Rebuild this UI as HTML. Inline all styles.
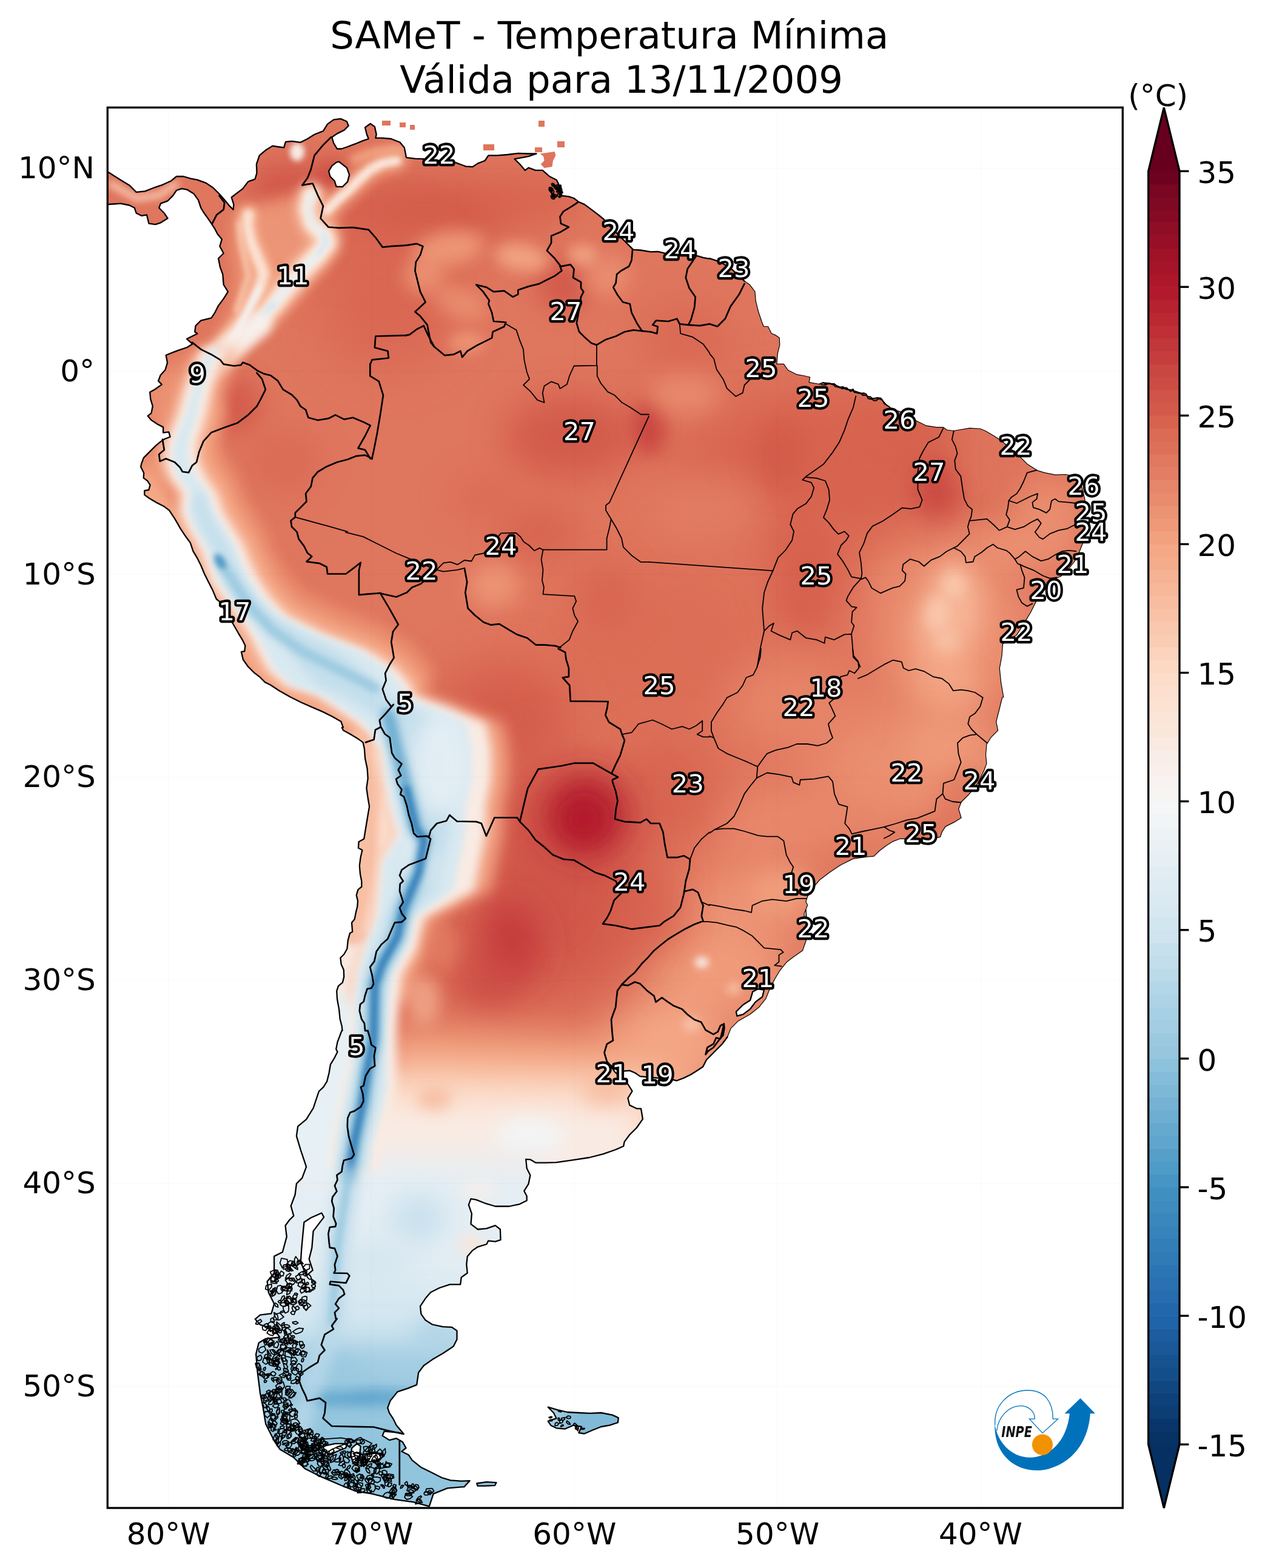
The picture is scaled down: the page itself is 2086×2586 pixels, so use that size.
<!DOCTYPE html>
<html lang="pt"><head><meta charset="utf-8"><title>SAMeT - Temperatura Mínima</title>
<style>html,body{margin:0;padding:0;background:#fff}body{width:2086px;height:2586px;overflow:hidden}svg{display:block}text{font-family:"DejaVu Sans","Liberation Sans",sans-serif}.t{font-size:62.5px;text-anchor:middle}.k{font-size:50px}.l{font-size:41.7px;text-anchor:middle;fill:#fff;stroke:#000;stroke-width:8.3px;stroke-linejoin:round;paint-order:stroke fill}.c{fill:none;stroke:#000;stroke-width:2.3;stroke-linejoin:round;stroke-linecap:round}.b{fill:none;stroke:#000;stroke-width:2.7;stroke-linejoin:round;stroke-linecap:round}.s{fill:none;stroke:#000;stroke-width:1.8;stroke-linejoin:round;stroke-linecap:round}</style></head><body>
<svg width="2086" height="2586" viewBox="0 0 2086 2586">
<rect width="2086" height="2586" fill="#fff"/>
<defs>
<clipPath id="land"><path clip-rule="evenodd" d="M177.2,282.9 187.3,289.5 198.8,296.7 213.2,305.4 224.7,316.9 239.1,315.4 253.5,309.7 267.9,304.8 282.3,298.2 291,291 302.5,291 314,294.4 325.5,296.7 339.9,301.9 351.5,309.7 363,321.2 371.6,331.3 378.8,339.9 384.6,345.7 385.4,337.1 381.7,325.5 388.9,319.8 400.4,311.1 409.1,299.6 420.6,295.3 423.5,285.2 422.9,270.8 427.8,256.4 437.9,247.8 449.4,240.6 458,242 468.1,243.4 471,233.9 481.1,232.8 495.5,234.8 507,229 518.5,221.8 532.9,216.1 540.1,204.6 550.2,197.4 561.7,195.9 571.8,200.2 574.7,207.4 567.5,214.6 555.9,220.4 547.3,226.2 550.2,236.2 555.9,245.5 563.1,245.5 573.2,242 584.7,237.7 599.1,231.9 607.8,229 604.9,221.8 602,210.3 610.7,204 617.9,208.9 620.7,221.8 619.3,227.6 630.8,227.6 645.2,229 659.6,234.8 666.8,243.4 670,259.9 684.4,261.6 698.8,262.2 750.6,267.9 767.9,274.3 779.4,275.1 788.1,269.4 799.6,265 805.4,256.4 819.8,256.4 837.1,255 854.3,252.9 871.6,253.5 884.6,253.5 871.6,257.8 857.2,260.7 848.6,262.2 857.2,270.8 865.9,280.9 871.6,276.6 883.1,280.9 894.7,280.9 906.2,291 917.7,296.7 923.5,308.2 924.9,322.6 937.9,324.1 946.5,327 953.7,332.7 963.8,337.1 975.3,345.7 986.8,354.3 995.5,361.5 1004.1,371.6 1015.6,383.1 1030,397.5 1041.5,409.1 1044.4,411.9 1055.9,412.5 1073.2,415.4 1084.7,414.8 1096.3,417.7 1119.3,420.6 1145.2,420.6 1159.6,424.9 1170,426.9 1170,426.2 1187.3,431.9 1204.6,442 1227.6,463.6 1236.2,469.4 1244.9,480.9 1246.3,496.7 1250.6,514 1256.4,531.3 1259.3,538.5 1266.5,538.5 1272.2,550 1279.4,552.9 1285.2,557.2 1285.8,568.7 1282.3,583.1 1280.9,600.4 1292.4,600.4 1299.6,610.5 1314,617.7 1327,620 1335.6,622 1334.2,630.7 1351.5,633.5 1357.2,630.7 1371.6,632.7 1388.9,639.3 1406.2,643.6 1423.5,649.4 1437.9,658 1446.5,658 1452.3,656.6 1460.9,666.7 1472.4,675.3 1486.8,679.6 1486.7,679.7 1509.4,693.2 1526.7,701.8 1544,704.7 1555.5,704.7 1561.3,709 1572.8,710.5 1598.7,706.2 1616,707 1624.7,710.5 1639.1,719.1 1650.6,726.3 1682.3,753.7 1693.8,765.2 1705.3,772.4 1711.1,776.2 1722.6,779.6 1739.9,783.1 1757.1,782.5 1771.5,785.4 1783.1,799.8 1788.8,822.8 1789.4,851.6 1787.4,880.4 1785.9,894.8 1780.2,909.2 1771.5,926.5 1760,940.9 1748.5,951 1737,955.3 1722.6,972.6 1708.2,992.7 1699.5,1010 1690.9,1024.4 1676.5,1047.5 1653.5,1061.9 1652,1082 1648.3,1102.2 1650.6,1125.2 1654.9,1150 1652.8,1150 1647.1,1173 1642.7,1190.3 1645.6,1204.7 1634.1,1216.2 1626.9,1227.8 1625.5,1245 1626.9,1259.4 1622.6,1271 1611.1,1294 1596.7,1311.3 1585.1,1322.8 1580.8,1334.3 1585.1,1348.7 1573.6,1355.9 1559.2,1363.1 1553.5,1371.8 1550.6,1380.4 1536.2,1383.3 1484.3,1383.3 1472.8,1387.6 1461.3,1394.8 1449.8,1403.5 1441.1,1412.1 1426.7,1413.5 1406.6,1416.4 1386.4,1426.5 1369.1,1438 1351.8,1451 1343.2,1461.1 1331.7,1478.3 1328.8,1487 1331.7,1492.7 1325.9,1507.1 1328.8,1524.4 1329.1,1500 1330.6,1525.9 1329.1,1551.8 1323.4,1567.7 1309,1577.8 1297.5,1586.4 1285.9,1600.8 1277.3,1615.2 1268.7,1632.5 1262.9,1646.9 1251.4,1661.3 1237,1672.8 1216.8,1684.3 1205.3,1695.9 1199.5,1710.3 1190.9,1721.8 1176.5,1736.2 1165,1747.7 1159.2,1759.2 1150.6,1765 1139.1,1772.2 1127.5,1777.9 1116,1782.3 1110.3,1780.8 1084.3,1777.9 1055.5,1775.1 1046.9,1769.3 1038.2,1765.6 1029.6,1766.4 1021,1765 1012.3,1762.1 1006.6,1756.3 1013.8,1767.9 1026.7,1779.4 1035.4,1788 1042.6,1799.5 1035.4,1811.1 1038.2,1822.6 1049.8,1828.3 1057,1828.3 1059.9,1845.6 1049.8,1860 1038.2,1871.5 1029.6,1883.1 1028.2,1890.3 1015.2,1896 995,1903.2 972,1909 943.2,1913.3 917.3,1917.1 900,1917.6 883.1,1917.5 874.4,1912.3 867.2,1911.8 868.7,1926.7 874.4,1938.2 871.5,1952.6 864.3,1964.2 868.7,1972.8 868.7,1980 857.1,1985.8 839.9,1989.5 816.8,1989.5 799.5,1984.3 785.1,1978.6 776.5,1977.1 772.8,1987.2 777.9,2001.6 776.5,2018.9 788,2027.5 802.4,2026.1 816.8,2021.2 824.9,2027.5 825.5,2044.8 816.8,2047.7 805.3,2046.3 802.4,2052 788,2056.3 779.4,2062.1 770.7,2072.2 769.3,2085.1 770.7,2099.5 760.7,2106.7 759.2,2118.3 741.9,2118.3 724.7,2124 710.3,2131.2 701.6,2141.3 693,2154.3 694.4,2167.2 701.6,2177.3 713.1,2184.5 730.4,2188.2 744.8,2188.8 753.5,2194.6 753.5,2209 747.7,2220.5 730.4,2232 713.1,2242.1 698.7,2252.2 690.1,2263.7 687.2,2283.9 672.8,2289.6 655.5,2295.4 643.5,2310.3 639.2,2321.8 642.1,2330.4 647.9,2339.1 653.6,2350.6 662.3,2360.7 665.7,2365 656.5,2362.7 633.5,2360.7 630.6,2367.9 642.1,2375.1 653.6,2372.2 663.7,2377.9 669.5,2388 662.3,2393.8 673.8,2399.5 679.5,2408.2 693.9,2419.7 711.2,2428.3 728.5,2437 742.9,2441.3 760.2,2442.7 774.6,2442.2 765.4,2452.1 737.8,2454.4 714.7,2463.6 707.8,2484.3 682.5,2477.4 650.2,2472.8 613.4,2463.6 585.7,2459 562.7,2449.8 530.4,2435.9 502.8,2422.1 484.3,2403.7 461.3,2389.9 452.1,2376 438.2,2348.4 433.6,2320.7 429,2297.7 424.4,2260.8 422.1,2233.2 426.7,2214.7 438.2,2207.8 461.3,2205.5 452.1,2191.7 429,2184.8 420.7,2175.6 429,2168.7 447.5,2166.4 452.1,2150.2 442.9,2131.8 440.6,2113.4 452.1,2099.5 452.1,2071.9 465.9,2065 472.8,2039.6 470.5,2021.2 477.4,2012 484.3,2005.1 479.7,1988.9 486.6,1970.5 488.9,1952.1 498.2,1942.9 505.1,1924.4 495.9,1896.8 488.9,1873.7 491.2,1857.6 505.1,1846.1 516.6,1827.6 525.8,1800 533.3,1792.9 539.1,1783.6 542.6,1769.7 544.9,1755.7 551.9,1744.1 556.5,1734.8 554.2,1730.2 556.5,1718.6 563.5,1700 564.5,1699.9 563.8,1692.5 560.7,1680.8 559.1,1664.6 556.1,1648.3 555.2,1634.4 558,1626.2 564.9,1620.4 567.2,1611.1 566.8,1599.5 562.6,1590.2 561.4,1579.8 567.2,1574 572.4,1564.7 573.8,1550.8 577,1539.1 581.2,1536.8 580,1521.7 584.7,1515.9 587,1504.3 589.3,1495 590,1485.7 587.7,1476.4 590.5,1467.1 596.3,1462.5 596.3,1453.2 594,1441.6 592.8,1427.6 594.7,1413.7 597.4,1402.1 590.9,1398.6 591.6,1388.2 596.3,1385.8 600.2,1383.5 602.1,1371.9 604.4,1358 606.7,1344 609.1,1330.1 606.7,1316.1 604.4,1299.9 606.7,1283.6 605.6,1267.4 602.1,1251.1 600.9,1234.8 598.6,1224.4 590.5,1218.6 578.9,1211.6 566.1,1204.6 563.8,1200 565.9,1199.9 562.4,1190.1 548.4,1182 532.2,1173.9 515.9,1166.9 497.3,1158.8 478.7,1149.5 460.2,1139 446.2,1129.7 436.9,1125.1 427.6,1115.8 418.4,1108.8 409.1,1099.5 400.9,1087.9 397.9,1075.1 403.3,1074 404.4,1064.7 399.8,1055.4 392.8,1043.8 383.5,1027.5 371.9,1008.9 362.6,992.7 356.8,988 351,974.1 344,960.2 337,946.2 331.2,932.3 325.4,920.7 318.5,909.1 313.8,895.1 306.9,885.8 297.6,871.9 288.3,855.6 279,841.7 269.7,834.7 258.1,828.9 246.5,822 238.3,816.1 238.3,809.2 245.3,808 247.6,799.9 243,792.9 236.7,788.3 237.2,780.1 232.1,769.7 233.4,764.3 236.8,755.1 246,745.9 257.6,734.3 264.5,728.6 271.4,724 280.6,720.5 278.3,712.4 269.1,713.6 269.1,704.4 259.9,699.8 249.5,692.9 243.7,685.9 249.5,681.3 251.8,669.8 248.3,658.3 247.2,646.8 255.3,642.2 266.8,634.1 261,628.3 264.5,619.1 272.5,609.9 276,598.4 273.7,585.7 285.2,581.1 294.4,577.6 308.2,573 317.5,567.3 308.2,559.2 308.2,558.8 316.9,554.5 325.5,550.2 321.2,547.3 322.6,537.2 331.3,528.6 348.6,524.3 354.3,515.6 360.1,504.1 368.7,492.6 375.9,481.1 368.7,469.5 367.3,452.3 363,440.7 360.1,426.3 368.7,417.7 362.4,406.2 365.9,394.7 358.7,386 354.3,377.4 348.6,368.7 342.8,360.1 335.6,350 331.3,342.8 327,329.9 319.8,319.8 308.2,312.6 299.6,311.1 291,314 285.2,322.6 276.6,331.3 265,335.6 262.2,342.8 270.8,351.5 276.6,360.1 265,367.3 256.4,370.2 245.5,368.7 242,354.3 233.4,355.8 224.7,351.5 221.8,342.8 213.2,338.5 198.8,335.6 187.3,336.5 177.2,337.1ZM558.8,266.5 571.8,276.6 576.1,288.1 573.2,299.6 564.6,308.2 554.5,307.7 551.6,298.2 544.4,291 542.1,282.3 547.3,273.7 554.5,267.9ZM1260,1632.5 1257.1,1644 1245.6,1652.6 1237,1664.2 1225.5,1672.8 1215.4,1675.7 1213.9,1668.5 1225.5,1657 1237,1649.8 1241.3,1635.4 1249.9,1631ZM501.4,2015.7 512.9,2008.3 530.4,2000.5 534.1,2007.4 516.6,2030.4 514.3,2058.1 509.7,2076.5 515.7,2094.9 505.1,2104.1 495.9,2081.1 497.2,2060.4 499.1,2039.6ZM532.6,2385.1 552.8,2380.8 573,2380.8 570.1,2388 555.7,2393.8 544.2,2399.5 535.5,2393.8ZM580.2,2388 588.8,2380.8 594.6,2385.1 593.1,2399.5 588.8,2412.5 581.6,2411.1 578.7,2399.5ZM601.8,2399.5 619.1,2396.7 633.5,2401 624.8,2406.7 610.4,2411.1 603.2,2406.7ZM903.7,2320.7 919.8,2325.3 935.9,2329 954.4,2330 972.8,2330.9 991.2,2330 1009.7,2333.6 1019.8,2338.2 1018.9,2346.1 1005.1,2350.7 991.2,2353 977.4,2358.5 963.6,2364.5 954.4,2363.1 959,2353 945.2,2350.7 931.3,2356.7 917.5,2355.3 908.3,2350.7 903.7,2343.8 917.5,2339.2 912.9,2330ZM890.3,253.5 914.8,250.1 916.3,256.4 911.9,265 910.5,275.1 897.5,277.1 891.8,270.8 897.5,265 896.1,257.8ZM786.2,2446.5 802.3,2444.2 818.4,2445.2 816.1,2449.8 800,2450.7 787.6,2450.7ZM630,199 644,199 644,207 630,207ZM659,202 669,202 669,210 659,210ZM676,206 684,206 684,214 676,214ZM797,238 815,238 815,248 797,248ZM888,199 898,199 898,209 888,209ZM919,233 931,233 931,243 919,243ZM882,243 894,243 894,251 882,251Z"/></clipPath>
<clipPath id="ax"><rect x="177.3" y="177.3" width="1674" height="2309.7"/></clipPath>
<filter id="f0" x="938" y="368" width="804" height="804" filterUnits="userSpaceOnUse"><feGaussianBlur stdDeviation="50"/></filter>
<filter id="f1" x="758" y="728" width="664" height="664" filterUnits="userSpaceOnUse"><feGaussianBlur stdDeviation="50"/></filter>
<filter id="f2" x="400" y="280" width="480" height="480" filterUnits="userSpaceOnUse"><feGaussianBlur stdDeviation="40"/></filter>
<filter id="f3" x="962" y="392" width="336" height="336" filterUnits="userSpaceOnUse"><feGaussianBlur stdDeviation="30"/></filter>
<filter id="f4" x="284" y="560" width="216" height="216" filterUnits="userSpaceOnUse"><feGaussianBlur stdDeviation="18"/></filter>
<filter id="f5" x="328" y="618" width="284" height="284" filterUnits="userSpaceOnUse"><feGaussianBlur stdDeviation="25"/></filter>
<filter id="f6" x="452" y="102" width="496" height="496" filterUnits="userSpaceOnUse"><feGaussianBlur stdDeviation="30"/></filter>
<filter id="f7" x="337" y="177" width="266" height="266" filterUnits="userSpaceOnUse"><feGaussianBlur stdDeviation="22"/></filter>
<filter id="f8" x="455" y="210" width="180" height="180" filterUnits="userSpaceOnUse"><feGaussianBlur stdDeviation="15"/></filter>
<filter id="f9" x="366" y="186" width="468" height="468" filterUnits="userSpaceOnUse"><feGaussianBlur stdDeviation="35"/></filter>
<filter id="f10" x="819" y="359" width="222" height="222" filterUnits="userSpaceOnUse"><feGaussianBlur stdDeviation="20"/></filter>
<filter id="f11" x="718" y="168" width="324" height="324" filterUnits="userSpaceOnUse"><feGaussianBlur stdDeviation="25"/></filter>
<filter id="f12" x="633" y="303" width="214" height="214" filterUnits="userSpaceOnUse"><feGaussianBlur stdDeviation="14"/></filter>
<filter id="f13" x="774" y="339" width="172" height="172" filterUnits="userSpaceOnUse"><feGaussianBlur stdDeviation="12"/></filter>
<filter id="f14" x="618" y="373" width="164" height="164" filterUnits="userSpaceOnUse"><feGaussianBlur stdDeviation="14"/></filter>
<filter id="f15" x="668" y="408" width="184" height="184" filterUnits="userSpaceOnUse"><feGaussianBlur stdDeviation="14"/></filter>
<filter id="f16" x="706" y="501" width="128" height="128" filterUnits="userSpaceOnUse"><feGaussianBlur stdDeviation="10"/></filter>
<filter id="f17" x="906" y="361" width="188" height="188" filterUnits="userSpaceOnUse"><feGaussianBlur stdDeviation="16"/></filter>
<filter id="f18" x="901" y="361" width="118" height="118" filterUnits="userSpaceOnUse"><feGaussianBlur stdDeviation="10"/></filter>
<filter id="f19" x="732" y="512" width="416" height="416" filterUnits="userSpaceOnUse"><feGaussianBlur stdDeviation="30"/></filter>
<filter id="f20" x="978" y="613" width="184" height="184" filterUnits="userSpaceOnUse"><feGaussianBlur stdDeviation="14"/></filter>
<filter id="f21" x="738" y="728" width="304" height="304" filterUnits="userSpaceOnUse"><feGaussianBlur stdDeviation="25"/></filter>
<filter id="f22" x="658" y="678" width="284" height="284" filterUnits="userSpaceOnUse"><feGaussianBlur stdDeviation="25"/></filter>
<filter id="f23" x="1010" y="530" width="240" height="240" filterUnits="userSpaceOnUse"><feGaussianBlur stdDeviation="18"/></filter>
<filter id="f24" x="972" y="642" width="396" height="396" filterUnits="userSpaceOnUse"><feGaussianBlur stdDeviation="30"/></filter>
<filter id="f25" x="1157" y="617" width="266" height="266" filterUnits="userSpaceOnUse"><feGaussianBlur stdDeviation="22"/></filter>
<filter id="f26" x="1216" y="546" width="428" height="428" filterUnits="userSpaceOnUse"><feGaussianBlur stdDeviation="35"/></filter>
<filter id="f27" x="1424" y="689" width="242" height="242" filterUnits="userSpaceOnUse"><feGaussianBlur stdDeviation="20"/></filter>
<filter id="f28" x="1384" y="574" width="252" height="252" filterUnits="userSpaceOnUse"><feGaussianBlur stdDeviation="20"/></filter>
<filter id="f29" x="1132" y="762" width="396" height="396" filterUnits="userSpaceOnUse"><feGaussianBlur stdDeviation="30"/></filter>
<filter id="f30" x="1498" y="628" width="284" height="284" filterUnits="userSpaceOnUse"><feGaussianBlur stdDeviation="25"/></filter>
<filter id="f31" x="1588" y="698" width="284" height="284" filterUnits="userSpaceOnUse"><feGaussianBlur stdDeviation="25"/></filter>
<filter id="f32" x="1518" y="728" width="344" height="344" filterUnits="userSpaceOnUse"><feGaussianBlur stdDeviation="25"/></filter>
<filter id="f33" x="1290" y="760" width="560" height="560" filterUnits="userSpaceOnUse"><feGaussianBlur stdDeviation="40"/></filter>
<filter id="f34" x="1409" y="859" width="312" height="312" filterUnits="userSpaceOnUse"><feGaussianBlur stdDeviation="20"/></filter>
<filter id="f35" x="1516" y="909" width="112" height="112" filterUnits="userSpaceOnUse"><feGaussianBlur stdDeviation="10"/></filter>
<filter id="f36" x="1481" y="948" width="128" height="128" filterUnits="userSpaceOnUse"><feGaussianBlur stdDeviation="10"/></filter>
<filter id="f37" x="1502" y="1003" width="118" height="118" filterUnits="userSpaceOnUse"><feGaussianBlur stdDeviation="10"/></filter>
<filter id="f38" x="1434" y="1004" width="252" height="252" filterUnits="userSpaceOnUse"><feGaussianBlur stdDeviation="20"/></filter>
<filter id="f39" x="1374" y="854" width="212" height="212" filterUnits="userSpaceOnUse"><feGaussianBlur stdDeviation="20"/></filter>
<filter id="f40" x="1184" y="954" width="632" height="632" filterUnits="userSpaceOnUse"><feGaussianBlur stdDeviation="45"/></filter>
<filter id="f41" x="1408" y="1078" width="304" height="304" filterUnits="userSpaceOnUse"><feGaussianBlur stdDeviation="25"/></filter>
<filter id="f42" x="1086" y="946" width="428" height="428" filterUnits="userSpaceOnUse"><feGaussianBlur stdDeviation="35"/></filter>
<filter id="f43" x="1056" y="1126" width="468" height="468" filterUnits="userSpaceOnUse"><feGaussianBlur stdDeviation="35"/></filter>
<filter id="f44" x="1470" y="1210" width="240" height="240" filterUnits="userSpaceOnUse"><feGaussianBlur stdDeviation="18"/></filter>
<filter id="f45" x="1435" y="1260" width="220" height="220" filterUnits="userSpaceOnUse"><feGaussianBlur stdDeviation="15"/></filter>
<filter id="f46" x="800" y="830" width="500" height="500" filterUnits="userSpaceOnUse"><feGaussianBlur stdDeviation="40"/></filter>
<filter id="f47" x="896" y="1096" width="408" height="408" filterUnits="userSpaceOnUse"><feGaussianBlur stdDeviation="35"/></filter>
<filter id="f48" x="713" y="863" width="204" height="204" filterUnits="userSpaceOnUse"><feGaussianBlur stdDeviation="18"/></filter>
<filter id="f49" x="858" y="843" width="284" height="284" filterUnits="userSpaceOnUse"><feGaussianBlur stdDeviation="25"/></filter>
<filter id="f50" x="1016" y="1266" width="448" height="448" filterUnits="userSpaceOnUse"><feGaussianBlur stdDeviation="35"/></filter>
<filter id="f51" x="1174" y="1354" width="232" height="232" filterUnits="userSpaceOnUse"><feGaussianBlur stdDeviation="20"/></filter>
<filter id="f52" x="946" y="1366" width="468" height="468" filterUnits="userSpaceOnUse"><feGaussianBlur stdDeviation="35"/></filter>
<filter id="f53" x="886" y="1506" width="428" height="428" filterUnits="userSpaceOnUse"><feGaussianBlur stdDeviation="35"/></filter>
<filter id="f54" x="1123" y="1553" width="68" height="68" filterUnits="userSpaceOnUse"><feGaussianBlur stdDeviation="6"/></filter>
<filter id="f55" x="1098" y="1648" width="84" height="84" filterUnits="userSpaceOnUse"><feGaussianBlur stdDeviation="8"/></filter>
<filter id="f56" x="1173" y="1593" width="74" height="74" filterUnits="userSpaceOnUse"><feGaussianBlur stdDeviation="7"/></filter>
<filter id="f57" x="590" y="940" width="480" height="480" filterUnits="userSpaceOnUse"><feGaussianBlur stdDeviation="40"/></filter>
<filter id="f58" x="522" y="1072" width="756" height="756" filterUnits="userSpaceOnUse"><feGaussianBlur stdDeviation="55"/></filter>
<filter id="f59" x="808" y="1186" width="316" height="316" filterUnits="userSpaceOnUse"><feGaussianBlur stdDeviation="26"/></filter>
<filter id="f60" x="877" y="1265" width="170" height="170" filterUnits="userSpaceOnUse"><feGaussianBlur stdDeviation="15"/></filter>
<filter id="f61" x="686" y="1400" width="312" height="312" filterUnits="userSpaceOnUse"><feGaussianBlur stdDeviation="26"/></filter>
<filter id="f62" x="658" y="1478" width="284" height="284" filterUnits="userSpaceOnUse"><feGaussianBlur stdDeviation="25"/></filter>
<filter id="f63" x="892" y="1352" width="336" height="336" filterUnits="userSpaceOnUse"><feGaussianBlur stdDeviation="30"/></filter>
<filter id="f64" x="548" y="1608" width="694" height="484" filterUnits="userSpaceOnUse"><feGaussianBlur stdDeviation="28"/></filter>
<filter id="f65" x="514" y="1674" width="672" height="462" filterUnits="userSpaceOnUse"><feGaussianBlur stdDeviation="26"/></filter>
<filter id="f66" x="481" y="1736" width="648" height="393" filterUnits="userSpaceOnUse"><feGaussianBlur stdDeviation="24"/></filter>
<filter id="f67" x="647" y="1743" width="138" height="138" filterUnits="userSpaceOnUse"><feGaussianBlur stdDeviation="12"/></filter>
<filter id="f68" x="906" y="1706" width="188" height="188" filterUnits="userSpaceOnUse"><feGaussianBlur stdDeviation="16"/></filter>
<filter id="f69" x="759" y="1759" width="230" height="230" filterUnits="userSpaceOnUse"><feGaussianBlur stdDeviation="18"/></filter>
<filter id="f70" x="852" y="2235" width="216" height="216" filterUnits="userSpaceOnUse"><feGaussianBlur stdDeviation="8"/></filter>
<filter id="f71" x="214" y="1819" width="772" height="787" filterUnits="userSpaceOnUse"><feGaussianBlur stdDeviation="26"/></filter>
<filter id="f72" x="579" y="1899" width="222" height="222" filterUnits="userSpaceOnUse"><feGaussianBlur stdDeviation="20"/></filter>
<filter id="f73" x="487" y="1947" width="266" height="266" filterUnits="userSpaceOnUse"><feGaussianBlur stdDeviation="22"/></filter>
<filter id="f74" x="720" y="1997" width="112" height="112" filterUnits="userSpaceOnUse"><feGaussianBlur stdDeviation="10"/></filter>
<filter id="f75" x="719" y="1891" width="142" height="142" filterUnits="userSpaceOnUse"><feGaussianBlur stdDeviation="12"/></filter>
<filter id="f76" x="202" y="2022" width="796" height="596" filterUnits="userSpaceOnUse"><feGaussianBlur stdDeviation="30"/></filter>
<filter id="f77" x="214" y="2129" width="772" height="477" filterUnits="userSpaceOnUse"><feGaussianBlur stdDeviation="26"/></filter>
<filter id="f78" x="234" y="2264" width="732" height="322" filterUnits="userSpaceOnUse"><feGaussianBlur stdDeviation="20"/></filter>
<filter id="f79" x="446" y="2161" width="288" height="288" filterUnits="userSpaceOnUse"><feGaussianBlur stdDeviation="10"/></filter>
<filter id="f80" x="466" y="2168" width="188" height="188" filterUnits="userSpaceOnUse"><feGaussianBlur stdDeviation="16"/></filter>
<filter id="f81" x="626" y="2106" width="188" height="188" filterUnits="userSpaceOnUse"><feGaussianBlur stdDeviation="16"/></filter>
<filter id="f82" x="156" y="276" width="162" height="79" filterUnits="userSpaceOnUse"><feGaussianBlur stdDeviation="6"/></filter>
<filter id="f83" x="300" y="272" width="303" height="372" filterUnits="userSpaceOnUse"><feGaussianBlur stdDeviation="12"/></filter>
<filter id="f84" x="301" y="269" width="291" height="378" filterUnits="userSpaceOnUse"><feGaussianBlur stdDeviation="9"/></filter>
<filter id="f85" x="319" y="286" width="255" height="344" filterUnits="userSpaceOnUse"><feGaussianBlur stdDeviation="6"/></filter>
<filter id="f86" x="333" y="301" width="227" height="314" filterUnits="userSpaceOnUse"><feGaussianBlur stdDeviation="4"/></filter>
<filter id="f87" x="510" y="372" width="44" height="62" filterUnits="userSpaceOnUse"><feGaussianBlur stdDeviation="3"/></filter>
<filter id="f88" x="371" y="486" width="96" height="92" filterUnits="userSpaceOnUse"><feGaussianBlur stdDeviation="3"/></filter>
<filter id="f89" x="324" y="314" width="151" height="311" filterUnits="userSpaceOnUse"><feGaussianBlur stdDeviation="7"/></filter>
<filter id="f90" x="337" y="328" width="124" height="283" filterUnits="userSpaceOnUse"><feGaussianBlur stdDeviation="5"/></filter>
<filter id="f91" x="347" y="458" width="97" height="143" filterUnits="userSpaceOnUse"><feGaussianBlur stdDeviation="3"/></filter>
<filter id="f92" x="370" y="347" width="61" height="185" filterUnits="userSpaceOnUse"><feGaussianBlur stdDeviation="4"/></filter>
<filter id="f93" x="306" y="486" width="170" height="158" filterUnits="userSpaceOnUse"><feGaussianBlur stdDeviation="8"/></filter>
<filter id="f94" x="457" y="217" width="66" height="67" filterUnits="userSpaceOnUse"><feGaussianBlur stdDeviation="5"/></filter>
<filter id="f95" x="489" y="215" width="214" height="182" filterUnits="userSpaceOnUse"><feGaussianBlur stdDeviation="9"/></filter>
<filter id="f96" x="512" y="238" width="168" height="136" filterUnits="userSpaceOnUse"><feGaussianBlur stdDeviation="5"/></filter>
<filter id="f97" x="555" y="216" width="152" height="76" filterUnits="userSpaceOnUse"><feGaussianBlur stdDeviation="6"/></filter>
<filter id="f98" x="139" y="524" width="272" height="272" filterUnits="userSpaceOnUse"><feGaussianBlur stdDeviation="20"/></filter>
<filter id="f99" x="140" y="680" width="220" height="220" filterUnits="userSpaceOnUse"><feGaussianBlur stdDeviation="18"/></filter>
<filter id="f100" x="532" y="1172" width="166" height="406" filterUnits="userSpaceOnUse"><feGaussianBlur stdDeviation="8"/></filter>
<filter id="f101" x="416" y="1511" width="238" height="473" filterUnits="userSpaceOnUse"><feGaussianBlur stdDeviation="10"/></filter>
<filter id="f102" x="396" y="1606" width="248" height="388" filterUnits="userSpaceOnUse"><feGaussianBlur stdDeviation="10"/></filter>
<filter id="f103" x="273" y="618" width="479" height="558" filterUnits="userSpaceOnUse"><feGaussianBlur stdDeviation="11"/></filter>
<filter id="f104" x="276" y="645" width="445" height="524" filterUnits="userSpaceOnUse"><feGaussianBlur stdDeviation="9"/></filter>
<filter id="f105" x="187" y="745" width="458" height="515" filterUnits="userSpaceOnUse"><feGaussianBlur stdDeviation="8"/></filter>
<filter id="f106" x="216" y="534" width="663" height="1160" filterUnits="userSpaceOnUse"><feGaussianBlur stdDeviation="12"/></filter>
<filter id="f107" x="243" y="547" width="595" height="1411" filterUnits="userSpaceOnUse"><feGaussianBlur stdDeviation="8"/></filter>
<filter id="f108" x="263" y="553" width="535" height="1399" filterUnits="userSpaceOnUse"><feGaussianBlur stdDeviation="6"/></filter>
<filter id="f109" x="291" y="786" width="479" height="1172" filterUnits="userSpaceOnUse"><feGaussianBlur stdDeviation="8"/></filter>
<filter id="f110" x="586" y="1121" width="278" height="278" filterUnits="userSpaceOnUse"><feGaussianBlur stdDeviation="16"/></filter>
<filter id="f111" x="609" y="1339" width="162" height="162" filterUnits="userSpaceOnUse"><feGaussianBlur stdDeviation="12"/></filter>
<filter id="f112" x="333" y="896" width="317" height="269" filterUnits="userSpaceOnUse"><feGaussianBlur stdDeviation="6"/></filter>
<filter id="f113" x="539" y="1144" width="197" height="832" filterUnits="userSpaceOnUse"><feGaussianBlur stdDeviation="7"/></filter>
<filter id="f114" x="555" y="1280" width="165" height="680" filterUnits="userSpaceOnUse"><feGaussianBlur stdDeviation="4"/></filter>
<filter id="f115" x="334" y="897" width="58" height="58" filterUnits="userSpaceOnUse"><feGaussianBlur stdDeviation="4"/></filter>
<filter id="f116" x="647" y="1479" width="162" height="162" filterUnits="userSpaceOnUse"><feGaussianBlur stdDeviation="12"/></filter>
<filter id="f117" x="619" y="1569" width="162" height="162" filterUnits="userSpaceOnUse"><feGaussianBlur stdDeviation="12"/></filter>
<filter id="f118" x="541" y="1183" width="108" height="396" filterUnits="userSpaceOnUse"><feGaussianBlur stdDeviation="6"/></filter>
<filter id="f119" x="438" y="1888" width="189" height="534" filterUnits="userSpaceOnUse"><feGaussianBlur stdDeviation="10"/></filter>
<filter id="f120" x="523" y="1916" width="76" height="288" filterUnits="userSpaceOnUse"><feGaussianBlur stdDeviation="5"/></filter>
</defs>
<g clip-path="url(#ax)"><g clip-path="url(#land)">
<rect x="177.3" y="177.3" width="1674" height="2309.7" fill="#df765e"/>
<ellipse cx="1340" cy="770" rx="240" ry="130" fill="#d7634f" filter="url(#f0)" opacity="0.85"/>
<ellipse cx="1090" cy="1060" rx="170" ry="120" fill="#db6b55" filter="url(#f1)" opacity="0.75"/>
<ellipse cx="640" cy="520" rx="110" ry="90" fill="#d86551" filter="url(#f2)" opacity="0.8"/>
<ellipse cx="1130" cy="560" rx="70" ry="60" fill="#d86551" filter="url(#f3)" opacity="0.7"/>
<ellipse cx="392" cy="668" rx="38" ry="48" fill="#d25849" filter="url(#f4)" opacity="0.8"/>
<ellipse cx="470" cy="760" rx="60" ry="50" fill="#d86551" filter="url(#f5)" opacity="0.6"/>
<ellipse cx="700" cy="350" rx="150" ry="60" fill="#d35a4a" filter="url(#f6)" opacity="0.85"/>
<ellipse cx="470" cy="310" rx="60" ry="45" fill="#cf5246" filter="url(#f7)" opacity="0.8"/>
<ellipse cx="545" cy="300" rx="30" ry="40" fill="#cb4942" filter="url(#f8)" opacity="0.8"/>
<ellipse cx="600" cy="420" rx="120" ry="70" fill="#d86551" filter="url(#f9)" opacity="0.6"/>
<ellipse cx="930" cy="470" rx="45" ry="40" fill="#cf5246" filter="url(#f10)" opacity="0.8"/>
<ellipse cx="880" cy="330" rx="80" ry="40" fill="#d6604d" filter="url(#f11)" opacity="0.7"/>
<ellipse cx="740" cy="410" rx="60" ry="28" fill="#f19e7d" filter="url(#f12)" opacity="0.85" transform="rotate(-10 740 410)"/>
<ellipse cx="860" cy="425" rx="45" ry="22" fill="#f5aa89" filter="url(#f13)" opacity="0.85" transform="rotate(10 860 425)"/>
<ellipse cx="700" cy="455" rx="35" ry="30" fill="#ee9677" filter="url(#f14)" opacity="0.8"/>
<ellipse cx="760" cy="500" rx="45" ry="25" fill="#ee9677" filter="url(#f15)" opacity="0.7" transform="rotate(20 760 500)"/>
<ellipse cx="770" cy="565" rx="30" ry="18" fill="#f19e7d" filter="url(#f16)" opacity="0.7"/>
<ellipse cx="1000" cy="455" rx="40" ry="35" fill="#ee9677" filter="url(#f17)" opacity="0.7"/>
<ellipse cx="960" cy="420" rx="25" ry="18" fill="#f6af8e" filter="url(#f18)" opacity="0.7"/>
<ellipse cx="940" cy="720" rx="110" ry="70" fill="#d25849" filter="url(#f19)" opacity="0.9"/>
<ellipse cx="1070" cy="705" rx="28" ry="45" fill="#c84440" filter="url(#f20)" opacity="0.9"/>
<ellipse cx="890" cy="880" rx="70" ry="50" fill="#d7634f" filter="url(#f21)" opacity="0.8"/>
<ellipse cx="800" cy="820" rx="60" ry="40" fill="#da6853" filter="url(#f22)" opacity="0.6"/>
<ellipse cx="1130" cy="650" rx="60" ry="35" fill="#e98b6e" filter="url(#f23)" opacity="0.85"/>
<ellipse cx="1170" cy="840" rx="100" ry="55" fill="#e48066" filter="url(#f24)" opacity="0.8"/>
<ellipse cx="1290" cy="750" rx="45" ry="60" fill="#d35a4a" filter="url(#f25)" opacity="0.8"/>
<ellipse cx="1430" cy="760" rx="100" ry="90" fill="#d7634f" filter="url(#f26)" opacity="0.8"/>
<ellipse cx="1545" cy="810" rx="40" ry="55" fill="#cb4942" filter="url(#f27)" opacity="0.9"/>
<ellipse cx="1510" cy="700" rx="60" ry="40" fill="#d6604d" filter="url(#f28)" opacity="0.6"/>
<ellipse cx="1330" cy="960" rx="60" ry="100" fill="#d55d4c" filter="url(#f29)" opacity="0.85"/>
<ellipse cx="1640" cy="770" rx="60" ry="50" fill="#de735c" filter="url(#f30)" opacity="0.6"/>
<ellipse cx="1730" cy="840" rx="60" ry="50" fill="#eb9172" filter="url(#f31)" opacity="0.85"/>
<ellipse cx="1690" cy="900" rx="90" ry="40" fill="#ee9677" filter="url(#f32)" opacity="0.8"/>
<ellipse cx="1570" cy="1040" rx="120" ry="150" fill="#ee9677" filter="url(#f33)" opacity="0.95"/>
<ellipse cx="1565" cy="1015" rx="50" ry="90" fill="#f7b799" filter="url(#f34)" opacity="0.95" transform="rotate(10 1565 1015)"/>
<ellipse cx="1572" cy="965" rx="18" ry="22" fill="#facab1" filter="url(#f35)" opacity="0.8"/>
<ellipse cx="1545" cy="1012" rx="20" ry="30" fill="#facab1" filter="url(#f36)" opacity="0.8"/>
<ellipse cx="1561" cy="1062" rx="18" ry="25" fill="#f9c6ac" filter="url(#f37)" opacity="0.8"/>
<ellipse cx="1560" cy="1130" rx="50" ry="60" fill="#f5aa89" filter="url(#f38)" opacity="0.85"/>
<ellipse cx="1480" cy="960" rx="40" ry="40" fill="#e8896c" filter="url(#f39)" opacity="0.6"/>
<ellipse cx="1500" cy="1270" rx="170" ry="110" fill="#eb9172" filter="url(#f40)" opacity="0.95"/>
<ellipse cx="1560" cy="1230" rx="70" ry="50" fill="#f19e7d" filter="url(#f41)" opacity="0.7"/>
<ellipse cx="1300" cy="1160" rx="100" ry="70" fill="#e8896c" filter="url(#f42)" opacity="0.8"/>
<ellipse cx="1290" cy="1360" rx="120" ry="60" fill="#e98b6e" filter="url(#f43)" opacity="0.9"/>
<ellipse cx="1590" cy="1330" rx="40" ry="60" fill="#de735c" filter="url(#f44)" opacity="0.7"/>
<ellipse cx="1545" cy="1370" rx="60" ry="25" fill="#de735c" filter="url(#f45)" opacity="0.7"/>
<ellipse cx="1050" cy="1080" rx="120" ry="90" fill="#dc6e57" filter="url(#f46)" opacity="0.6"/>
<ellipse cx="1100" cy="1300" rx="90" ry="90" fill="#d7634f" filter="url(#f47)" opacity="0.8"/>
<ellipse cx="815" cy="965" rx="42" ry="35" fill="#ef9979" filter="url(#f48)" opacity="0.9"/>
<ellipse cx="1000" cy="985" rx="50" ry="60" fill="#d7634f" filter="url(#f49)" opacity="0.7"/>
<ellipse cx="1240" cy="1490" rx="110" ry="70" fill="#ec9374" filter="url(#f50)" opacity="0.95"/>
<ellipse cx="1290" cy="1470" rx="50" ry="35" fill="#f3a481" filter="url(#f51)" opacity="0.8"/>
<ellipse cx="1180" cy="1600" rx="120" ry="80" fill="#f19e7d" filter="url(#f52)" opacity="0.95"/>
<ellipse cx="1100" cy="1720" rx="100" ry="80" fill="#f5aa89" filter="url(#f53)" opacity="0.95"/>
<ellipse cx="1157" cy="1587" rx="12" ry="10" fill="#f9ebe3" filter="url(#f54)" opacity="0.95"/>
<ellipse cx="1140" cy="1690" rx="14" ry="12" fill="#fbd0b9" filter="url(#f55)" opacity="0.8"/>
<ellipse cx="1210" cy="1630" rx="12" ry="10" fill="#facab1" filter="url(#f56)" opacity="0.7"/>
<ellipse cx="830" cy="1180" rx="110" ry="90" fill="#d35a4a" filter="url(#f57)" opacity="0.85"/>
<ellipse cx="900" cy="1450" rx="170" ry="200" fill="#cf5246" filter="url(#f58)" opacity="0.9"/>
<ellipse cx="966" cy="1344" rx="72" ry="72" fill="#b82531" filter="url(#f59)"/>
<ellipse cx="962" cy="1350" rx="35" ry="35" fill="#b3192c" filter="url(#f60)" opacity="0.8"/>
<ellipse cx="842" cy="1556" rx="50" ry="70" fill="#c43b3c" filter="url(#f61)" opacity="0.9"/>
<ellipse cx="800" cy="1620" rx="60" ry="50" fill="#cb4942" filter="url(#f62)" opacity="0.7"/>
<ellipse cx="1060" cy="1520" rx="70" ry="60" fill="#d6604d" filter="url(#f63)" opacity="0.6"/>
<path d="M640,1700 1150,1720 1150,2000 640,2000Z" fill="#f3a481" filter="url(#f64)"/>
<path d="M600,1760 1100,1770 1100,2050 600,2050Z" fill="#fcd5bf" filter="url(#f65)"/>
<path d="M560,1815 1050,1820 1050,2050 560,2050Z" fill="#f9ebe3" filter="url(#f66)"/>
<ellipse cx="716" cy="1812" rx="28" ry="18" fill="#f7b596" filter="url(#f67)" opacity="0.8"/>
<ellipse cx="1000" cy="1800" rx="40" ry="25" fill="#f6af8e" filter="url(#f68)" opacity="0.6"/>
<ellipse cx="874" cy="1874" rx="55" ry="30" fill="#f2f5f6" filter="url(#f69)"/>
<ellipse cx="960" cy="2343" rx="80" ry="40" fill="#81bad8" filter="url(#f70)"/>
<path d="M400,1905 900,1915 900,2520 300,2520Z" fill="#e4eef4" filter="url(#f71)"/>
<ellipse cx="690" cy="2010" rx="45" ry="40" fill="#c5dfec" filter="url(#f72)" opacity="0.85"/>
<ellipse cx="620" cy="2080" rx="60" ry="40" fill="#d1e5f0" filter="url(#f73)" opacity="0.7"/>
<ellipse cx="776" cy="2053" rx="22" ry="16" fill="#fbe4d6" filter="url(#f74)" opacity="0.8"/>
<ellipse cx="790" cy="1962" rx="30" ry="20" fill="#f9efe9" filter="url(#f75)" opacity="0.7"/>
<path d="M350,2120 900,2120 900,2520 300,2520Z" fill="#d1e5f0" filter="url(#f76)" opacity="0.9"/>
<path d="M350,2215 900,2215 900,2520 300,2520Z" fill="#a0cce2" filter="url(#f77)"/>
<path d="M350,2330 900,2330 900,2520 300,2520Z" fill="#90c4dd" filter="url(#f78)" opacity="0.9"/>
<ellipse cx="590" cy="2305" rx="110" ry="14" fill="#59a1ca" filter="url(#f79)" opacity="0.9"/>
<ellipse cx="560" cy="2262" rx="40" ry="30" fill="#98c8e0" filter="url(#f80)" opacity="0.7"/>
<ellipse cx="720" cy="2200" rx="40" ry="30" fill="#acd2e5" filter="url(#f81)" opacity="0.7"/>
<path d="M184,304 225,327 262,322 290,304" fill="none" stroke="#fbd0b9" stroke-width="12" stroke-linecap="round" stroke-linejoin="round" filter="url(#f82)" opacity="0.8"/>
<path d="M386.6,345.1 428.1,335.9 492.6,317.5 534.1,312.9 561.7,386.6 543.3,432.7 492.6,488 446.5,538.7 391.2,589.4 340.5,603.2 354.3,557.1 382,511 391.2,455.7 382,400.4Z" fill="#f19e7d" filter="url(#f83)" opacity="0.8"/>
<path d="M513.3,322.1 508.7,345.1 515.6,368.2 534.1,386.6 538.7,400.4 524.8,418.8 506.4,437.3 488,458 469.5,478.8 451.1,501.8 428.1,524.8 409.6,538.7 386.6,561.7 368.2,580.1 354.3,594" fill="none" stroke="#f9c6ac" stroke-width="44" stroke-linecap="round" stroke-linejoin="round" filter="url(#f84)" opacity="0.9"/>
<path d="M513.3,322.1 508.7,345.1 515.6,368.2 534.1,386.6 538.7,400.4 524.8,418.8 506.4,437.3 488,458 469.5,478.8 451.1,501.8 428.1,524.8 409.6,538.7 386.6,561.7 368.2,580.1 354.3,594" fill="none" stroke="#fae9df" stroke-width="28" stroke-linecap="round" stroke-linejoin="round" filter="url(#f85)" opacity="0.95"/>
<path d="M513.3,322.1 508.7,345.1 515.6,368.2 534.1,386.6 538.7,400.4 524.8,418.8 506.4,437.3 488,458 469.5,478.8 451.1,501.8 428.1,524.8 409.6,538.7 386.6,561.7 368.2,580.1 354.3,594" fill="none" stroke="#e7f0f4" stroke-width="12" stroke-linecap="round" stroke-linejoin="round" filter="url(#f86)" opacity="0.9"/>
<path d="M534.1,386.6 538.7,400.4 524.8,418.8" fill="none" stroke="#d1e5f0" stroke-width="6" stroke-linecap="round" stroke-linejoin="round" filter="url(#f87)" opacity="0.8"/>
<path d="M451.1,501.8 428.1,524.8 409.6,538.7 386.6,561.7" fill="none" stroke="#d1e5f0" stroke-width="8" stroke-linecap="round" stroke-linejoin="round" filter="url(#f88)" opacity="0.8"/>
<path d="M409.6,354.3 407.3,372.8 414.2,400.4 425.8,428.1 435,451.1 428.1,474.1 414.2,501.8 402.7,524.8 391.2,547.9 377.4,566.3 363.5,584.7" fill="none" stroke="#f8bb9e" stroke-width="30" stroke-linecap="round" stroke-linejoin="round" filter="url(#f89)" opacity="0.9"/>
<path d="M409.6,354.3 407.3,372.8 414.2,400.4 425.8,428.1 435,451.1 428.1,474.1 414.2,501.8 402.7,524.8 391.2,547.9 377.4,566.3 363.5,584.7" fill="none" stroke="#fbe6da" stroke-width="16" stroke-linecap="round" stroke-linejoin="round" filter="url(#f90)" opacity="0.9"/>
<path d="M428.1,474.1 414.2,501.8 402.7,524.8 391.2,547.9 377.4,566.3 363.5,584.7" fill="none" stroke="#eff3f5" stroke-width="8" stroke-linecap="round" stroke-linejoin="round" filter="url(#f91)" opacity="0.8"/>
<path d="M395.8,368.2 398.1,400.4 405,432.7 409.6,455.7 400.4,483.4 391.2,511" fill="none" stroke="#f9c6ac" stroke-width="12" stroke-linecap="round" stroke-linejoin="round" filter="url(#f92)" opacity="0.8"/>
<path d="M428.1,534.1 400.4,557.1 372.8,580.1 354.3,596.3" fill="none" stroke="#f8f1ed" stroke-width="40" stroke-linecap="round" stroke-linejoin="round" filter="url(#f93)" opacity="0.9"/>
<ellipse cx="490" cy="250.6" rx="12" ry="15" fill="#f8f1ed" filter="url(#f94)" opacity="0.95"/>
<path d="M538.7,347.4 557.1,329 575.5,312.9 594,294.4 612.4,278.3 630.8,269.1 653.9,264.5" fill="none" stroke="#f5aa89" stroke-width="36" stroke-linecap="round" stroke-linejoin="round" filter="url(#f95)" opacity="0.85"/>
<path d="M538.7,347.4 557.1,329 575.5,312.9 594,294.4 612.4,278.3 630.8,269.1 653.9,264.5" fill="none" stroke="#fae9df" stroke-width="16" stroke-linecap="round" stroke-linejoin="round" filter="url(#f96)" opacity="0.95"/>
<path d="M584.7,262.2 612.4,252 649.3,246 676.9,248.3" fill="none" stroke="#f5aa89" stroke-width="16" stroke-linecap="round" stroke-linejoin="round" filter="url(#f97)" opacity="0.75"/>
<ellipse cx="275" cy="660" rx="45" ry="70" fill="#ee9677" filter="url(#f98)" opacity="0.8"/>
<ellipse cx="250" cy="790" rx="40" ry="50" fill="#f19e7d" filter="url(#f99)" opacity="0.8"/>
<path d="M585,1210 640,1200 660,1300 670,1380 650,1450 630,1540 560,1550 580,1450 590,1380 595,1300Z" fill="#fce0d0" filter="url(#f100)"/>
<path d="M540,1545 620,1545 600,1700 590,1800 580,1950 450,1950 470,1850 500,1750Z" fill="#f9ebe3" filter="url(#f101)"/>
<path d="M520,1640 610,1640 600,1700 590,1800 580,1960 430,1960 470,1850 490,1750Z" fill="#e7f0f4" filter="url(#f102)"/>
<path d="M346,681 336,712 336,738 349,767 369,796 378,825 396,854 413,882 424,911 439,940 459,969 486,997 544,1026 619,1055 664,1084 689,1113" fill="none" stroke="#ee9677" stroke-width="50" stroke-linecap="round" stroke-linejoin="round" filter="url(#f103)" opacity="0.85"/>
<path d="M332,691 322,722 322,748 335,777 355,806 364,835 382,864 399,892 410,921 425,950 445,979 472,1007 530,1036 605,1065 650,1094 675,1123" fill="none" stroke="#f5aa89" stroke-width="30" stroke-linecap="round" stroke-linejoin="round" filter="url(#f104)" opacity="0.8"/>
<path d="M232,790 262,830 300,880 330,940 360,990 395,1050 425,1100 470,1135 520,1165 570,1195 600,1215" fill="none" stroke="#f5aa89" stroke-width="34" stroke-linecap="round" stroke-linejoin="round" filter="url(#f105)" opacity="0.95"/>
<path d="M319,575 306,600 290,640 280,677 272,699 259,730 257,756 264,785 286,814 282,843 294,872 311,900 323,929 332,958 352,987 374,1015 394,1044 409,1073 424,1102 454,1131 503,1146 572,1192 626,1238 631,1284 640,1330 654,1376 626,1422 622,1468 617,1514 599,1560 585,1607 580,1653 678,1653 683,1607 710,1560 720,1514 810,1468 819,1422 829,1376 829,1330 838,1284 838,1238 829,1192 702,1146 699,1131 674,1102 629,1073 554,1044 496,1015 469,987 449,958 434,929 423,900 406,872 388,843 379,814 359,785 346,756 346,730 356,699 362,677 370,640 384,600 396,575Z" fill="#f5aa89" filter="url(#f106)" opacity="0.9"/>
<path d="M333,575 320,600 304,640 294,677 286,699 273,730 271,756 278,785 300,814 296,843 308,872 325,900 337,929 346,958 366,987 388,1015 408,1044 423,1073 438,1102 468,1131 517,1146 586,1192 625,1238 630,1284 639,1330 653,1376 625,1422 621,1468 616,1514 598,1560 584,1607 579,1653 579,1699 575,1745 565,1791 556,1837 547,1883 543,1930 624,1930 631,1883 644,1837 654,1791 654,1745 654,1699 658,1653 663,1607 690,1560 700,1514 782,1468 791,1422 801,1376 801,1330 810,1284 810,1238 801,1192 682,1146 679,1131 654,1102 609,1073 534,1044 476,1015 449,987 429,958 414,929 403,900 386,872 368,843 359,814 339,785 326,756 326,730 336,699 342,677 350,640 364,600 376,575Z" fill="#f9ebe3" filter="url(#f107)"/>
<path d="M347,575 334,600 318,640 308,677 300,699 287,730 285,756 292,785 314,814 310,843 322,872 339,900 351,929 360,958 380,987 402,1015 422,1044 437,1073 452,1102 482,1131 531,1146 600,1192 632,1238 637,1284 646,1330 660,1376 632,1422 628,1468 623,1514 605,1560 591,1607 586,1653 586,1699 582,1745 572,1791 563,1837 554,1883 550,1930 608,1930 615,1883 628,1837 638,1791 638,1745 638,1699 642,1653 647,1607 674,1560 684,1514 748,1468 757,1422 767,1376 767,1330 776,1284 776,1238 767,1192 666,1146 663,1131 638,1102 593,1073 518,1044 460,1015 433,987 413,958 398,929 387,900 370,872 352,843 343,814 323,785 310,756 310,730 320,699 326,677 334,640 348,600 360,575Z" fill="#d8e9f1" filter="url(#f108)"/>
<path d="M320.2,814 319.5,843 333,872 350,900 361.8,929 372.2,958 392.2,987 415.5,1015 445,1044 475,1073 497.5,1102 526.2,1131 563.8,1146 640.8,1192 667,1238 670.8,1284 675.2,1330 685.8,1376 662.2,1422 657,1468 637.2,1514 621.2,1560 604,1607 599,1653 598,1699 595,1745 587.5,1791 578.2,1837 568.2,1883 563.5,1930 594.5,1930 600.8,1883 612.8,1837 622.5,1791 625,1745 626,1699 629,1653 634,1607 657.8,1560 669.8,1514 719,1468 726.8,1422 741.2,1376 737.8,1330 742.2,1284 741,1238 726.2,1192 633.2,1146 618.8,1131 592.5,1102 555,1073 495,1044 446.5,1015 420.8,987 400.8,958 387.2,929 376,900 359,872 342.5,843 336.8,814Z" fill="#bddbea" filter="url(#f109)" opacity="0.75"/>
<ellipse cx="725" cy="1260" rx="45" ry="85" fill="#e4eef4" filter="url(#f110)" opacity="0.95"/>
<ellipse cx="690" cy="1420" rx="22" ry="40" fill="#f3f5f6" filter="url(#f111)" opacity="0.8"/>
<path d="M363,926 385,960 412,1000 450,1040 500,1075 560,1105 620,1135" fill="none" stroke="#90c4dd" stroke-width="16" stroke-linecap="round" stroke-linejoin="round" filter="url(#f112)" opacity="0.8"/>
<path d="M640,1180 655,1240 670,1300 686,1367 700,1385 690,1440 665,1500 655,1545 630,1590 618,1625 616,1713 605,1770 598,1819 585,1880 575,1940" fill="none" stroke="#62a7ce" stroke-width="22" stroke-linecap="round" stroke-linejoin="round" filter="url(#f113)" opacity="0.9"/>
<path d="M670,1300 686,1367 700,1385 690,1440 665,1500 655,1545 630,1590 618,1625 616,1713 605,1770 598,1819 585,1880 575,1940" fill="none" stroke="#2e77b5" stroke-width="10" stroke-linecap="round" stroke-linejoin="round" filter="url(#f114)" opacity="0.85"/>
<ellipse cx="363" cy="926" rx="7" ry="14" fill="#3c8abe" filter="url(#f115)" opacity="0.8" transform="rotate(-30 363 926)"/>
<ellipse cx="728" cy="1560" rx="26" ry="40" fill="#e27b62" filter="url(#f116)" opacity="0.8"/>
<ellipse cx="700" cy="1650" rx="25" ry="40" fill="#f8bb9e" filter="url(#f117)" opacity="0.6"/>
<path d="M592,1222 610,1300 606,1400 594,1480 580,1540" fill="none" stroke="#f8bfa4" stroke-width="34" stroke-linecap="round" stroke-linejoin="round" filter="url(#f118)"/>
<path d="M575,1940 565,2000 556,2060 552,2120 547,2180 530,2240 505,2310 490,2370" fill="none" stroke="#b8d8e9" stroke-width="36" stroke-linecap="round" stroke-linejoin="round" filter="url(#f119)" opacity="0.8"/>
<path d="M575,1940 565,2000 556,2060 552,2120 547,2180" fill="none" stroke="#90c4dd" stroke-width="12" stroke-linecap="round" stroke-linejoin="round" filter="url(#f120)" opacity="0.7"/>
</g>
<path d="M277.74,177.3V2487" stroke="#000" stroke-opacity="0.012" stroke-width="2.5"/>
<path d="M612.54,177.3V2487" stroke="#000" stroke-opacity="0.012" stroke-width="2.5"/>
<path d="M947.34,177.3V2487" stroke="#000" stroke-opacity="0.012" stroke-width="2.5"/>
<path d="M1282.14,177.3V2487" stroke="#000" stroke-opacity="0.012" stroke-width="2.5"/>
<path d="M1616.94,177.3V2487" stroke="#000" stroke-opacity="0.012" stroke-width="2.5"/>
<path d="M177.3,277.74H1851.3" stroke="#000" stroke-opacity="0.012" stroke-width="2.5"/>
<path d="M177.3,612.54H1851.3" stroke="#000" stroke-opacity="0.012" stroke-width="2.5"/>
<path d="M177.3,947.34H1851.3" stroke="#000" stroke-opacity="0.012" stroke-width="2.5"/>
<path d="M177.3,1282.14H1851.3" stroke="#000" stroke-opacity="0.012" stroke-width="2.5"/>
<path d="M177.3,1616.94H1851.3" stroke="#000" stroke-opacity="0.012" stroke-width="2.5"/>
<path d="M177.3,1951.74H1851.3" stroke="#000" stroke-opacity="0.012" stroke-width="2.5"/>
<path d="M177.3,2286.54H1851.3" stroke="#000" stroke-opacity="0.012" stroke-width="2.5"/>
<path class="c" d="M1199.5,1710.3 1190.9,1721.8 1176.5,1736.2 1165,1747.7 1159.2,1759.2 1150.6,1765 1139.1,1772.2 1127.5,1777.9 1116,1782.3 1110.3,1780.8 1084.3,1777.9 1055.5,1775.1 1046.9,1769.3 1038.2,1765.6 1029.6,1766.4 1021,1765 1012.3,1762.1 1006.6,1756.3 1013.8,1767.9 1026.7,1779.4 1035.4,1788 1042.6,1799.5 1035.4,1811.1 1038.2,1822.6 1049.8,1828.3 1057,1828.3 1059.9,1845.6 1049.8,1860 1038.2,1871.5 1029.6,1883.1 1028.2,1890.3 1015.2,1896 995,1903.2 972,1909 943.2,1913.3 917.3,1917.1 900,1917.6 883.1,1917.5 874.4,1912.3 867.2,1911.8 868.7,1926.7 874.4,1938.2 871.5,1952.6 864.3,1964.2 868.7,1972.8 868.7,1980 857.1,1985.8 839.9,1989.5 816.8,1989.5 799.5,1984.3 785.1,1978.6 776.5,1977.1 772.8,1987.2 777.9,2001.6 776.5,2018.9 788,2027.5 802.4,2026.1 816.8,2021.2 824.9,2027.5 825.5,2044.8 816.8,2047.7 805.3,2046.3 802.4,2052 788,2056.3 779.4,2062.1 770.7,2072.2 769.3,2085.1 770.7,2099.5 760.7,2106.7 759.2,2118.3 741.9,2118.3 724.7,2124 710.3,2131.2 701.6,2141.3 693,2154.3 694.4,2167.2 701.6,2177.3 713.1,2184.5 730.4,2188.2 744.8,2188.8 753.5,2194.6 753.5,2209 747.7,2220.5 730.4,2232 713.1,2242.1 698.7,2252.2 690.1,2263.7 687.2,2283.9 672.8,2289.6 655.5,2295.4 643.5,2310.3 639.2,2321.8 642.1,2330.4 647.9,2339.1 653.6,2350.6 662.3,2360.7 665.7,2365 656.5,2362.7 633.5,2360.7 630.6,2367.9 642.1,2375.1 653.6,2372.2 663.7,2377.9 669.5,2388 662.3,2393.8 673.8,2399.5 679.5,2408.2 693.9,2419.7 711.2,2428.3 728.5,2437 742.9,2441.3 760.2,2442.7 774.6,2442.2 765.4,2452.1 737.8,2454.4 714.7,2463.6 707.8,2484.3 682.5,2477.4 650.2,2472.8 613.4,2463.6 585.7,2459 562.7,2449.8 530.4,2435.9 502.8,2422.1 484.3,2403.7 461.3,2389.9 452.1,2376 438.2,2348.4 433.6,2320.7 429,2297.7 424.4,2260.8 422.1,2233.2 426.7,2214.7 438.2,2207.8 461.3,2205.5 452.1,2191.7 429,2184.8 420.7,2175.6 429,2168.7 447.5,2166.4 452.1,2150.2 442.9,2131.8 440.6,2113.4 452.1,2099.5 452.1,2071.9 465.9,2065 472.8,2039.6 470.5,2021.2 477.4,2012 484.3,2005.1 479.7,1988.9 486.6,1970.5 488.9,1952.1 498.2,1942.9 505.1,1924.4 495.9,1896.8 488.9,1873.7 491.2,1857.6 505.1,1846.1 516.6,1827.6 525.8,1800 533.3,1792.9 539.1,1783.6 542.6,1769.7 544.9,1755.7 551.9,1744.1 556.5,1734.8 554.2,1730.2 556.5,1718.6 563.5,1700 564.5,1699.9 563.8,1692.5 560.7,1680.8 559.1,1664.6 556.1,1648.3 555.2,1634.4 558,1626.2 564.9,1620.4 567.2,1611.1 566.8,1599.5 562.6,1590.2 561.4,1579.8 567.2,1574 572.4,1564.7 573.8,1550.8 577,1539.1 581.2,1536.8 580,1521.7 584.7,1515.9 587,1504.3 589.3,1495 590,1485.7 587.7,1476.4 590.5,1467.1 596.3,1462.5 596.3,1453.2 594,1441.6 592.8,1427.6 594.7,1413.7 597.4,1402.1 590.9,1398.6 591.6,1388.2 596.3,1385.8 600.2,1383.5 602.1,1371.9 604.4,1358 606.7,1344 609.1,1330.1 606.7,1316.1 604.4,1299.9 606.7,1283.6 605.6,1267.4 602.1,1251.1 600.9,1234.8 598.6,1224.4 590.5,1218.6 578.9,1211.6 566.1,1204.6 563.8,1200 565.9,1199.9 562.4,1190.1 548.4,1182 532.2,1173.9 515.9,1166.9 497.3,1158.8 478.7,1149.5 460.2,1139 446.2,1129.7 436.9,1125.1 427.6,1115.8 418.4,1108.8 409.1,1099.5 400.9,1087.9 397.9,1075.1 403.3,1074 404.4,1064.7 399.8,1055.4 392.8,1043.8 383.5,1027.5 371.9,1008.9 362.6,992.7 356.8,988 351,974.1 344,960.2 337,946.2 331.2,932.3 325.4,920.7 318.5,909.1 313.8,895.1 306.9,885.8 297.6,871.9 288.3,855.6 279,841.7 269.7,834.7 258.1,828.9 246.5,822 238.3,816.1 238.3,809.2 245.3,808 247.6,799.9 243,792.9 236.7,788.3 237.2,780.1 232.1,769.7 233.4,764.3 236.8,755.1 246,745.9 257.6,734.3 264.5,728.6 271.4,724 280.6,720.5 278.3,712.4 269.1,713.6 269.1,704.4 259.9,699.8 249.5,692.9 243.7,685.9 249.5,681.3 251.8,669.8 248.3,658.3 247.2,646.8 255.3,642.2 266.8,634.1 261,628.3 264.5,619.1 272.5,609.9 276,598.4 273.7,585.7 285.2,581.1 294.4,577.6 308.2,573 317.5,567.3 308.2,559.2 308.2,558.8 316.9,554.5 325.5,550.2 321.2,547.3 322.6,537.2 331.3,528.6 348.6,524.3 354.3,515.6 360.1,504.1 368.7,492.6 375.9,481.1 368.7,469.5 367.3,452.3 363,440.7 360.1,426.3 368.7,417.7 362.4,406.2 365.9,394.7 358.7,386 354.3,377.4 348.6,368.7 342.8,360.1 335.6,350 331.3,342.8 327,329.9 319.8,319.8 308.2,312.6 299.6,311.1 291,314 285.2,322.6 276.6,331.3 265,335.6 262.2,342.8 270.8,351.5 276.6,360.1 265,367.3 256.4,370.2 245.5,368.7 242,354.3 233.4,355.8 224.7,351.5 221.8,342.8 213.2,338.5 198.8,335.6 187.3,336.5 177.2,337.1 177.2,282.9 187.3,289.5 198.8,296.7 213.2,305.4 224.7,316.9 239.1,315.4 253.5,309.7 267.9,304.8 282.3,298.2 291,291 302.5,291 314,294.4 325.5,296.7 339.9,301.9 351.5,309.7 363,321.2 371.6,331.3 378.8,339.9 384.6,345.7 385.4,337.1 381.7,325.5 388.9,319.8 400.4,311.1 409.1,299.6 420.6,295.3 423.5,285.2 422.9,270.8 427.8,256.4 437.9,247.8 449.4,240.6 458,242 468.1,243.4 471,233.9 481.1,232.8 495.5,234.8 507,229 518.5,221.8 532.9,216.1 540.1,204.6 550.2,197.4 561.7,195.9 571.8,200.2 574.7,207.4 567.5,214.6 555.9,220.4 547.3,226.2 550.2,236.2 555.9,245.5 563.1,245.5 573.2,242 584.7,237.7 599.1,231.9 607.8,229 604.9,221.8 602,210.3 610.7,204 617.9,208.9 620.7,221.8 619.3,227.6 630.8,227.6 645.2,229 659.6,234.8 666.8,243.4 670,259.9 684.4,261.6 698.8,262.2 750.6,267.9 767.9,274.3 779.4,275.1 788.1,269.4 799.6,265 805.4,256.4 819.8,256.4 837.1,255 854.3,252.9 871.6,253.5 884.6,253.5 871.6,257.8 857.2,260.7 848.6,262.2 857.2,270.8 865.9,280.9 871.6,276.6 883.1,280.9 894.7,280.9 906.2,291 917.7,296.7 923.5,308.2 924.9,322.6 937.9,324.1 946.5,327 953.7,332.7 963.8,337.1 975.3,345.7 986.8,354.3 995.5,361.5 1004.1,371.6 1015.6,383.1 1030,397.5 1041.5,409.1 1044.4,411.9 1055.9,412.5 1073.2,415.4 1084.7,414.8 1096.3,417.7 1119.3,420.6 1145.2,420.6 1159.6,424.9 1170,426.9 1170,426.2 1187.3,431.9 1204.6,442 1227.6,463.6"/>
<path class="c" style="stroke-width:1.2" d="M1227.6,463.6 1236.2,469.4 1244.9,480.9 1246.3,496.7 1250.6,514 1256.4,531.3 1259.3,538.5 1266.5,538.5 1272.2,550 1279.4,552.9 1285.2,557.2 1285.8,568.7 1282.3,583.1 1280.9,600.4 1292.4,600.4 1299.6,610.5 1314,617.7 1327,620 1335.6,622 1334.2,630.7 1351.5,633.5 1357.2,630.7 1371.6,632.7 1388.9,639.3 1406.2,643.6 1423.5,649.4 1437.9,658 1446.5,658 1452.3,656.6 1460.9,666.7 1472.4,675.3 1486.8,679.6 1486.7,679.7 1509.4,693.2 1526.7,701.8 1544,704.7 1555.5,704.7 1561.3,709 1572.8,710.5 1598.7,706.2 1616,707 1624.7,710.5 1639.1,719.1 1650.6,726.3 1682.3,753.7 1693.8,765.2 1705.3,772.4 1711.1,776.2 1722.6,779.6 1739.9,783.1 1757.1,782.5 1771.5,785.4 1783.1,799.8 1788.8,822.8 1789.4,851.6 1787.4,880.4 1785.9,894.8 1780.2,909.2 1771.5,926.5 1760,940.9 1748.5,951 1737,955.3 1722.6,972.6 1708.2,992.7 1699.5,1010 1690.9,1024.4 1676.5,1047.5 1653.5,1061.9 1652,1082 1648.3,1102.2 1650.6,1125.2 1654.9,1150 1652.8,1150 1647.1,1173 1642.7,1190.3 1645.6,1204.7 1634.1,1216.2 1626.9,1227.8 1625.5,1245 1626.9,1259.4 1622.6,1271 1611.1,1294 1596.7,1311.3 1585.1,1322.8 1580.8,1334.3 1585.1,1348.7 1573.6,1355.9 1559.2,1363.1 1553.5,1371.8 1550.6,1380.4 1536.2,1383.3 1484.3,1383.3 1472.8,1387.6 1461.3,1394.8 1449.8,1403.5 1441.1,1412.1 1426.7,1413.5 1406.6,1416.4 1386.4,1426.5 1369.1,1438 1351.8,1451 1343.2,1461.1 1331.7,1478.3 1328.8,1487 1331.7,1492.7 1325.9,1507.1 1328.8,1524.4 1329.1,1500 1330.6,1525.9 1329.1,1551.8 1323.4,1567.7 1309,1577.8 1297.5,1586.4 1285.9,1600.8 1277.3,1615.2 1268.7,1632.5 1262.9,1646.9 1251.4,1661.3 1237,1672.8 1216.8,1684.3 1205.3,1695.9 1199.5,1710.3"/>
<path class="c" d="M558.8,266.5 571.8,276.6 576.1,288.1 573.2,299.6 564.6,308.2 554.5,307.7 551.6,298.2 544.4,291 542.1,282.3 547.3,273.7 554.5,267.9ZM1260,1632.5 1257.1,1644 1245.6,1652.6 1237,1664.2 1225.5,1672.8 1215.4,1675.7 1213.9,1668.5 1225.5,1657 1237,1649.8 1241.3,1635.4 1249.9,1631ZM501.4,2015.7 512.9,2008.3 530.4,2000.5 534.1,2007.4 516.6,2030.4 514.3,2058.1 509.7,2076.5 515.7,2094.9 505.1,2104.1 495.9,2081.1 497.2,2060.4 499.1,2039.6ZM532.6,2385.1 552.8,2380.8 573,2380.8 570.1,2388 555.7,2393.8 544.2,2399.5 535.5,2393.8ZM580.2,2388 588.8,2380.8 594.6,2385.1 593.1,2399.5 588.8,2412.5 581.6,2411.1 578.7,2399.5ZM601.8,2399.5 619.1,2396.7 633.5,2401 624.8,2406.7 610.4,2411.1 603.2,2406.7Z"/>
<path class="c" d="M903.7,2320.7 919.8,2325.3 935.9,2329 954.4,2330 972.8,2330.9 991.2,2330 1009.7,2333.6 1019.8,2338.2 1018.9,2346.1 1005.1,2350.7 991.2,2353 977.4,2358.5 963.6,2364.5 954.4,2363.1 959,2353 945.2,2350.7 931.3,2356.7 917.5,2355.3 908.3,2350.7 903.7,2343.8 917.5,2339.2 912.9,2330Z"/>
<path class="c" d="M786.2,2446.5 802.3,2444.2 818.4,2445.2 816.1,2449.8 800,2450.7 787.6,2450.7Z"/>
<path class="s" d="M503.2,2104.6 500.5,2102.6 499.3,2096.8 504.2,2097.2 507.1,2102.3ZM491.9,2101.0 497.5,2097.5 505.8,2094.5 506.1,2098.3 497.6,2102.7ZM494.8,2128.5 496.7,2125.0 502.0,2123.4 504.9,2126.6 502.2,2129.7 496.9,2132.9ZM482.7,2138.8 485.1,2135.1 489.9,2136.3 489.1,2140.4 485.2,2142.4ZM485.2,2167.8 481.5,2167.6 479.3,2165.1 481.3,2162.9 483.6,2162.1 486.5,2164.0ZM473.2,2096.2 470.5,2093.2 474.4,2090.3 477.7,2090.1 480.7,2093.3 476.5,2097.0ZM497.1,2123.6 497.8,2121.2 499.7,2119.0 503.7,2118.3 504.7,2121.4 502.4,2124.1 498.9,2125.9ZM459.2,2134.0 455.9,2128.9 457.6,2121.1 462.7,2119.9 467.0,2123.1 465.1,2132.1ZM514.1,2128.0 515.0,2125.7 517.7,2123.8 519.5,2124.9 516.5,2127.6ZM506.3,2118.9 505.3,2117.2 505.3,2115.5 506.8,2114.8 508.6,2115.6 508.6,2118.3ZM508.6,2156.9 504.8,2161.3 500.5,2156.5 498.5,2150.8 503.5,2148.6 508.0,2149.5 512.7,2153.4ZM459.2,2106.5 457.0,2108.1 454.8,2106.1 454.8,2103.6 456.3,2101.7 458.5,2102.9 460.2,2104.4ZM472.2,2095.9 474.5,2093.3 478.3,2092.3 477.9,2095.0 475.6,2096.6ZM473.1,2128.2 473.6,2123.9 476.7,2122.1 480.6,2121.4 481.9,2125.2 481.0,2128.9 477.2,2129.3ZM489.6,2082.5 490.7,2080.2 494.4,2078.0 495.6,2081.9 494.0,2084.3 490.6,2085.6ZM451.3,2137.0 448.7,2134.8 449.8,2127.9 453.5,2123.4 456.4,2125.0 455.5,2130.4 454.1,2134.5ZM448.9,2138.1 446.0,2135.1 448.1,2130.2 450.5,2125.0 454.1,2127.0 454.7,2131.8 452.4,2135.9ZM490.9,2093.9 487.3,2092.0 483.6,2088.8 483.6,2085.8 486.7,2086.9 490.6,2090.4ZM463.2,2147.9 460.8,2149.0 458.6,2146.9 460.3,2144.7 463.0,2145.2ZM447.7,2102.6 445.7,2097.6 451.5,2094.8 455.5,2096.2 456.0,2100.4 452.4,2107.0ZM503.6,2159.4 501.0,2157.6 502.4,2153.6 506.5,2151.7 507.8,2156.0 506.4,2159.2ZM489.0,2089.1 487.5,2091.2 481.9,2088.3 480.0,2085.9 481.6,2083.4 487.4,2086.9ZM478.1,2089.8 474.5,2091.0 472.3,2086.9 475.0,2084.7 478.8,2086.3ZM488.0,2146.9 485.6,2148.6 483.2,2144.6 484.1,2142.2 488.1,2144.5ZM461.7,2083.1 464.1,2075.1 473.7,2077.2 475.1,2087.0 465.5,2091.0ZM481.4,2112.3 480.0,2112.7 476.8,2111.1 477.1,2109.0 479.1,2108.7 481.9,2110.9ZM519.1,2118.5 516.4,2116.8 514.6,2114.6 513.9,2111.7 515.5,2110.6 518.0,2112.4 518.8,2115.3ZM451.6,2130.6 449.4,2131.7 446.9,2131.2 445.3,2129.1 447.9,2128.4 450.6,2128.2ZM474.5,2129.5 468.8,2128.4 465.2,2124.9 465.5,2122.0 472.2,2124.4ZM462.3,2164.0 464.0,2162.5 467.2,2161.5 468.9,2162.1 468.1,2163.7 464.3,2164.8ZM463.1,2106.1 459.6,2108.6 453.1,2108.2 454.6,2101.4 461.3,2101.2ZM486.8,2163.2 483.6,2162.4 481.5,2157.0 483.3,2153.1 486.2,2157.0 488.6,2160.6ZM485.5,2134.1 486.2,2132.7 488.8,2132.7 490.1,2133.4 491.1,2134.5 489.1,2135.5 486.3,2135.4ZM483.1,2148.4 477.0,2148.3 473.1,2143.4 472.5,2138.5 477.4,2137.6 482.3,2142.4ZM489.0,2115.6 489.4,2112.0 494.1,2109.3 497.9,2108.8 497.2,2112.4 492.7,2115.5ZM456.0,2104.1 454.0,2101.2 455.5,2097.4 458.8,2098.6 459.7,2102.8ZM488.5,2086.7 484.1,2087.5 480.0,2086.2 481.2,2082.0 486.1,2082.6ZM491.3,2120.2 492.8,2115.3 500.8,2115.8 505.3,2118.9 501.5,2122.9 495.2,2122.7ZM472.7,2135.3 473.8,2129.2 475.8,2124.6 479.9,2122.4 479.6,2127.2 477.9,2133.2ZM492.1,2159.6 489.7,2160.4 487.1,2157.3 488.3,2154.8 491.0,2154.1 493.6,2157.4ZM459.3,2112.4 457.7,2114.2 452.5,2112.2 453.3,2109.9 454.6,2108.4 457.9,2110.5ZM463.3,2147.4 463.3,2143.2 465.6,2138.1 468.5,2136.9 469.4,2140.0 466.4,2144.1ZM478.8,2123.9 476.3,2122.3 473.2,2120.3 475.3,2117.4 477.8,2116.1 481.3,2117.6 481.1,2121.6ZM505.5,2152.3 499.9,2153.4 494.4,2152.4 491.6,2146.4 496.9,2143.5 501.1,2143.9 505.6,2146.4ZM485.2,2113.2 483.6,2112.9 482.4,2110.4 483.6,2108.8 485.5,2109.3 485.6,2111.8ZM458.6,2155.9 454.5,2154.3 452.3,2150.2 453.9,2149.0 457.8,2151.6ZM508.6,2130.7 509.5,2128.5 511.6,2127.5 514.2,2127.5 512.9,2129.7 511.0,2130.8ZM483.4,2095.7 480.0,2096.1 475.7,2093.5 473.4,2091.1 472.3,2087.9 477.5,2090.1 480.5,2092.5ZM507.8,2130.7 504.0,2128.5 505.4,2122.5 510.2,2123.7 510.9,2128.4ZM501.0,2118.3 499.5,2116.8 497.9,2113.4 499.5,2110.1 501.8,2109.6 502.3,2113.8 503.3,2117.8ZM489.3,2109.3 487.5,2105.1 493.0,2101.9 496.1,2106.3 493.2,2111.0ZM514.8,2122.8 513.6,2119.9 516.6,2118.6 519.7,2118.6 520.2,2122.0 517.3,2123.5ZM456.8,2116.7 451.7,2116.6 446.4,2115.0 447.5,2112.1 453.3,2113.3ZM485.2,2151.5 479.8,2151.3 480.6,2144.8 483.1,2140.3 488.2,2142.4 489.0,2148.9ZM456.8,2105.2 452.6,2101.0 452.7,2094.1 457.7,2094.9 459.8,2100.1ZM437.7,2125.9 438.9,2120.3 447.9,2117.7 447.8,2122.5 443.0,2128.3ZM500.0,2084.2 495.6,2084.1 493.0,2083.0 490.1,2079.9 494.3,2080.0 497.4,2080.9ZM498.5,2147.8 497.3,2144.7 498.3,2139.5 502.4,2138.0 505.9,2138.4 506.1,2143.7 501.7,2146.9ZM471.3,2144.6 473.4,2141.1 477.4,2137.5 481.0,2141.5 482.2,2146.0 478.4,2149.8 472.9,2149.2ZM494.9,2149.6 497.8,2147.5 501.3,2148.5 501.5,2149.8 498.2,2151.3ZM487.7,2113.4 483.6,2118.5 474.7,2117.0 470.3,2111.2 476.7,2107.7 484.5,2107.8ZM466.7,2104.5 462.2,2103.3 461.4,2099.7 463.9,2096.1 468.3,2099.5ZM514.1,2109.9 509.6,2109.5 506.7,2106.3 505.8,2101.9 510.2,2102.4 512.5,2105.6ZM502.0,2129.7 501.3,2125.8 505.8,2122.6 509.5,2124.1 510.4,2126.6 509.2,2129.6 505.2,2131.4ZM455.8,2110.7 453.1,2113.7 449.0,2113.7 446.4,2111.1 445.4,2106.8 450.0,2105.3 453.0,2107.9ZM446.2,2112.2 447.8,2106.2 452.4,2101.0 458.5,2102.3 458.7,2108.6 452.5,2113.1ZM504.3,2095.1 499.9,2090.0 503.9,2085.4 510.6,2085.3 510.3,2092.4ZM473.8,2127.5 471.7,2123.0 473.4,2117.0 476.3,2117.3 477.9,2124.5ZM498.6,2146.2 497.4,2147.3 494.7,2148.4 492.8,2146.1 494.1,2144.4 495.9,2142.6 497.9,2144.7ZM475.4,2163.1 470.4,2165.7 467.6,2160.5 466.7,2156.0 470.4,2153.4 476.0,2152.9 476.2,2158.7ZM472.9,2084.1 477.9,2079.1 485.8,2080.7 486.1,2085.5 479.0,2087.3ZM489.7,2087.9 486.2,2084.4 485.5,2077.4 487.6,2072.3 491.0,2076.7 492.9,2084.3ZM461.8,2151.8 464.1,2148.6 471.2,2148.2 472.8,2151.6 470.7,2154.4 465.2,2154.0ZM465.9,2129.8 463.2,2126.1 464.3,2121.1 470.7,2121.3 469.7,2127.1ZM470.6,2108.9 472.6,2103.6 478.1,2100.0 479.9,2101.4 476.0,2106.9ZM474.4,2153.1 470.7,2151.1 469.5,2147.2 471.7,2143.3 476.1,2148.8ZM466.4,2089.7 467.6,2086.5 472.4,2085.5 476.4,2086.5 479.3,2089.8 473.3,2091.6 467.5,2093.3ZM520.8,2116.1 517.9,2116.9 514.1,2115.8 514.0,2113.5 519.6,2113.1ZM480.7,2148.4 474.8,2151.7 468.9,2147.7 468.5,2141.0 478.5,2141.3ZM448.4,2134.3 449.0,2130.8 450.7,2126.7 453.6,2125.7 452.7,2129.3 451.2,2132.2ZM427.3,2229.6 426.5,2225.1 430.2,2221.9 435.9,2220.1 438.4,2226.4 432.1,2231.6ZM518.6,2392.0 515.5,2391.1 513.9,2388.7 513.5,2385.0 517.1,2384.0 520.5,2385.6 522.8,2389.9ZM488.5,2325.6 485.8,2327.1 482.0,2326.3 482.1,2323.9 486.6,2322.9ZM471.4,2296.0 470.9,2293.0 476.1,2290.7 478.7,2292.9 481.2,2294.7 477.9,2297.5 473.5,2297.7ZM525.2,2400.9 521.7,2398.8 520.9,2393.9 524.9,2391.0 529.5,2391.9 531.7,2396.3 529.1,2400.3ZM458.0,2382.2 455.7,2378.3 456.2,2373.6 458.6,2369.2 463.3,2368.3 464.3,2374.8 461.2,2378.7ZM441.2,2321.7 435.9,2321.5 433.2,2315.7 434.3,2312.7 439.4,2316.7ZM444.0,2250.5 441.6,2248.0 439.9,2242.8 442.0,2241.1 445.5,2247.4ZM437.7,2280.2 436.3,2280.0 435.5,2278.3 436.1,2276.3 437.8,2276.7 440.0,2277.4 438.8,2279.4ZM501.6,2385.2 501.4,2383.1 502.6,2381.5 504.4,2382.0 506.7,2382.9 505.1,2384.8 503.5,2386.2ZM476.2,2213.2 473.2,2213.4 468.6,2210.9 470.1,2209.3 475.7,2210.2ZM455.8,2358.3 454.0,2358.7 452.0,2358.6 450.3,2357.5 451.4,2356.7 452.7,2356.5 454.6,2356.9ZM454.9,2231.1 452.8,2230.9 450.5,2229.4 449.7,2227.4 450.2,2225.9 452.7,2226.8 454.0,2229.1ZM521.3,2403.8 522.5,2399.7 528.1,2397.3 531.4,2401.2 528.9,2405.0 523.7,2408.1ZM474.0,2214.0 470.5,2216.1 465.8,2213.6 461.4,2211.4 462.9,2208.9 467.0,2207.5 471.8,2210.5ZM459.7,2362.7 458.5,2361.2 458.1,2357.6 459.5,2356.4 460.5,2358.2 460.6,2360.8ZM505.0,2409.6 499.7,2413.5 493.8,2411.1 493.9,2406.1 500.8,2404.0ZM449.6,2319.0 452.9,2315.4 456.9,2315.0 460.0,2317.5 457.8,2320.8 453.6,2321.9ZM499.2,2402.6 499.3,2400.3 504.1,2396.8 508.3,2396.8 506.6,2400.6 501.1,2404.3ZM500.1,2377.8 501.0,2376.4 503.3,2376.2 505.1,2376.8 504.6,2378.0 503.6,2379.1 501.0,2379.3ZM481.1,2358.8 480.4,2356.5 483.9,2355.6 487.2,2355.4 487.9,2357.7 485.4,2359.7 482.1,2360.7ZM428.2,2267.9 426.9,2265.9 429.6,2263.4 432.3,2261.6 433.8,2263.3 433.1,2266.2 430.3,2268.8ZM447.5,2343.0 446.6,2338.7 447.1,2335.1 450.8,2332.5 453.8,2335.7 453.5,2339.0 451.4,2341.0ZM472.5,2257.7 469.0,2255.7 467.3,2249.1 470.8,2249.4 474.5,2254.1ZM479.7,2244.5 480.2,2240.2 486.7,2238.5 490.1,2243.6 487.5,2249.0 481.0,2248.7ZM458.0,2314.0 455.5,2316.0 452.2,2314.2 453.8,2311.9 456.5,2311.4ZM447.3,2267.1 444.2,2268.3 439.7,2268.8 437.7,2267.0 440.6,2265.9 445.0,2265.4ZM450.5,2274.1 450.7,2271.8 454.5,2271.8 457.8,2271.8 457.6,2273.8 455.4,2275.5 451.4,2276.1ZM462.4,2258.9 459.3,2259.9 456.4,2255.3 458.2,2253.4 462.2,2256.0ZM434.1,2307.7 432.0,2304.9 431.7,2301.2 434.0,2300.2 434.9,2304.3ZM434.6,2259.7 434.2,2258.0 435.4,2255.8 437.7,2254.8 438.0,2257.2 436.5,2260.5ZM492.9,2366.2 489.4,2365.0 487.0,2361.5 489.2,2358.8 491.6,2357.2 494.3,2359.3 494.2,2362.7ZM472.7,2250.1 467.1,2248.1 463.2,2239.2 469.9,2239.8 473.8,2244.4ZM442.4,2316.6 444.2,2311.0 450.4,2307.4 452.7,2310.8 448.3,2316.0ZM469.6,2369.9 467.6,2370.8 465.5,2369.9 464.9,2367.6 467.1,2367.0 469.6,2367.4ZM510.0,2409.2 507.4,2411.0 503.6,2411.3 502.6,2407.9 504.9,2405.6 508.5,2406.3ZM473.6,2318.5 471.8,2321.1 469.4,2318.6 470.7,2316.2 473.3,2316.0ZM475.8,2358.5 474.9,2356.2 477.5,2354.0 480.3,2353.5 478.1,2358.1ZM455.4,2310.2 452.3,2312.6 449.2,2308.8 448.7,2304.3 454.7,2306.7ZM488.3,2257.8 486.3,2260.0 482.9,2259.0 482.6,2256.4 486.5,2255.3ZM492.8,2391.9 492.1,2388.6 493.0,2382.9 498.7,2381.2 500.5,2385.0 500.3,2389.4 496.2,2392.7ZM471.5,2299.3 470.7,2296.8 472.6,2293.9 476.2,2293.9 477.5,2296.7 476.8,2299.8 473.7,2300.5ZM483.4,2233.6 483.6,2229.9 487.8,2225.8 491.9,2225.2 491.4,2229.3 487.1,2233.0ZM523.2,2383.5 520.8,2386.0 513.4,2384.3 514.3,2380.6 520.6,2381.4ZM497.3,2390.6 501.0,2388.3 506.7,2386.7 509.3,2389.2 506.3,2391.6 501.2,2392.2ZM504.0,2237.6 498.0,2237.4 493.9,2231.7 499.6,2227.3 506.4,2230.9ZM433.1,2246.2 434.8,2240.3 439.9,2238.4 445.3,2241.0 443.4,2246.7 438.4,2250.1ZM489.2,2276.3 487.2,2272.7 489.6,2269.5 492.2,2271.3 493.4,2275.1ZM479.9,2377.7 483.6,2373.9 487.3,2370.6 489.4,2371.7 488.4,2374.1 484.4,2377.4ZM462.6,2222.8 463.5,2218.1 469.0,2218.0 473.0,2219.9 472.0,2224.8 465.7,2226.5ZM454.1,2343.6 448.8,2341.8 446.0,2336.8 448.2,2333.2 453.0,2331.5 454.8,2338.0ZM472.9,2310.1 470.9,2311.1 467.4,2308.4 465.9,2305.6 468.0,2305.3 470.0,2305.3 472.5,2307.7ZM452.9,2269.0 448.5,2268.8 446.4,2264.5 449.6,2262.0 452.6,2262.8 455.0,2265.4ZM438.9,2240.9 436.2,2240.1 436.3,2236.2 438.4,2233.7 441.2,2233.7 441.5,2237.1 441.6,2240.6ZM451.2,2221.4 452.6,2216.4 457.0,2212.2 459.6,2216.7 457.2,2222.8ZM497.5,2381.3 491.5,2378.4 493.5,2370.4 501.3,2371.7 506.1,2379.7ZM482.9,2222.9 482.4,2218.8 485.1,2215.1 489.4,2213.4 488.9,2218.1 487.3,2223.4ZM439.1,2212.6 442.0,2206.3 449.0,2209.5 451.4,2214.4 444.2,2215.3ZM452.0,2250.0 450.5,2248.9 449.6,2246.9 450.4,2244.6 452.5,2245.7 452.9,2248.3ZM519.1,2393.4 515.8,2391.9 515.9,2388.2 519.0,2386.5 522.7,2387.7 523.4,2392.4ZM449.5,2306.0 442.6,2303.2 442.9,2296.9 446.3,2294.1 452.2,2298.7ZM487.8,2354.5 487.0,2352.6 488.8,2349.8 491.2,2348.6 492.6,2349.8 492.7,2352.6 489.8,2355.0ZM469.2,2317.4 466.7,2312.9 471.8,2307.6 477.4,2309.0 480.3,2314.8 473.9,2321.3ZM466.2,2341.6 466.0,2338.2 467.1,2333.5 471.5,2331.0 473.6,2333.6 473.1,2338.0 469.5,2343.5ZM467.1,2344.8 465.8,2340.9 470.9,2339.5 474.4,2340.7 475.0,2343.6 474.6,2348.5 468.9,2347.8ZM454.5,2294.5 456.6,2290.1 461.1,2286.1 465.5,2289.6 465.1,2293.6 462.6,2296.0 459.1,2296.2ZM483.0,2360.5 480.8,2360.2 479.4,2357.9 479.3,2355.9 480.8,2355.7 482.5,2356.1 482.7,2358.1ZM456.9,2384.7 456.2,2381.9 458.8,2378.4 462.4,2378.3 462.9,2381.8 460.0,2386.6ZM450.4,2308.1 447.9,2308.8 444.7,2304.0 446.9,2302.2 451.2,2305.6ZM444.1,2310.8 442.9,2309.3 444.2,2307.6 446.2,2307.0 447.9,2308.3 447.0,2310.3 445.7,2311.8ZM438.9,2218.3 437.0,2218.3 435.1,2213.5 436.3,2211.5 438.5,2212.0 439.2,2216.3ZM439.5,2310.5 440.1,2308.9 441.7,2306.6 443.2,2308.0 443.3,2309.8 441.3,2310.8ZM443.3,2219.2 445.4,2215.5 448.8,2213.5 450.9,2214.6 447.3,2217.5ZM451.6,2279.3 449.9,2277.9 447.9,2275.3 447.8,2272.3 449.5,2273.0 451.1,2274.2 451.3,2276.7ZM513.6,2391.3 508.2,2393.6 503.3,2390.7 503.4,2386.6 506.2,2382.6 513.4,2384.8ZM458.2,2333.7 455.6,2328.7 458.2,2322.0 461.0,2321.9 460.7,2328.3ZM443.9,2303.1 441.9,2299.8 443.9,2295.8 448.6,2294.4 450.0,2299.1 447.3,2302.0ZM511.2,2366.1 507.0,2362.6 511.6,2356.5 515.8,2359.9 516.4,2365.9ZM499.1,2361.4 493.9,2360.1 492.1,2354.4 495.4,2352.7 498.4,2356.3ZM434.6,2213.1 435.4,2211.0 437.8,2210.0 440.0,2211.0 436.9,2214.0ZM442.4,2232.1 441.3,2231.2 440.7,2228.6 441.0,2226.1 442.4,2228.0 443.8,2231.7ZM516.4,2386.7 515.9,2384.4 518.0,2382.1 520.5,2383.5 521.6,2385.3 520.5,2387.6 517.7,2389.1ZM457.1,2333.8 455.9,2329.4 457.7,2324.7 461.0,2325.0 460.9,2331.2ZM526.9,2390.3 525.3,2386.7 526.2,2382.4 528.7,2382.6 529.0,2387.0ZM478.9,2250.8 480.5,2246.6 483.1,2243.8 487.4,2245.1 487.4,2249.7 483.3,2251.1ZM491.9,2399.9 488.0,2400.0 483.3,2398.5 485.6,2394.1 488.0,2389.3 491.9,2393.0 495.6,2396.4ZM486.1,2338.4 485.9,2335.3 485.1,2332.5 488.0,2332.3 490.0,2333.1 490.4,2335.4 489.6,2338.5ZM441.5,2218.1 443.3,2216.3 446.5,2214.7 448.0,2216.8 449.9,2218.7 446.5,2219.8 442.9,2220.4ZM486.6,2297.9 480.6,2305.2 470.7,2300.0 474.7,2290.4 482.3,2292.2ZM494.3,2367.9 496.4,2364.3 499.8,2361.3 502.2,2365.0 502.5,2367.6 501.4,2371.0 496.5,2372.1ZM440.6,2273.1 441.2,2270.4 442.0,2267.8 443.7,2266.8 443.9,2268.7 442.4,2271.3ZM490.4,2217.8 486.7,2216.4 483.4,2213.2 485.5,2211.6 489.6,2214.1ZM447.1,2236.6 443.7,2235.3 442.0,2232.9 442.6,2230.5 445.7,2233.2ZM438.6,2312.6 436.2,2313.5 434.2,2310.2 435.3,2308.7 438.4,2310.3ZM492.9,2368.4 498.7,2364.1 508.5,2364.3 507.2,2371.3 497.8,2374.6ZM473.0,2346.6 471.1,2343.7 472.7,2341.3 474.5,2341.5 474.9,2343.8ZM477.1,2317.9 478.4,2316.8 481.0,2316.0 482.5,2316.9 481.1,2318.1 478.8,2318.3ZM432.6,2270.4 435.6,2266.2 440.6,2266.7 442.9,2271.3 436.8,2274.4ZM492.0,2213.6 485.0,2215.0 477.2,2214.3 478.3,2210.7 486.0,2210.2ZM450.1,2374.5 451.5,2370.4 453.7,2365.2 459.5,2363.5 461.2,2366.9 459.5,2372.0 453.8,2375.6ZM485.8,2211.6 479.2,2216.9 473.5,2214.1 470.4,2206.6 479.2,2206.4ZM515.0,2391.5 512.2,2392.3 509.9,2389.6 509.0,2387.2 511.4,2386.3 513.9,2388.7ZM493.5,2263.2 488.9,2260.3 488.9,2254.4 490.0,2251.1 492.8,2248.8 497.3,2252.0 497.5,2259.5ZM507.1,2396.5 506.2,2391.7 510.5,2386.7 517.6,2389.5 518.4,2397.5 511.4,2401.2ZM524.3,2383.2 522.6,2380.2 525.8,2378.2 528.5,2379.9 527.8,2383.8ZM495.3,2222.1 494.7,2218.5 498.2,2217.9 502.1,2217.9 501.4,2222.0 498.2,2224.0ZM441.5,2299.4 439.2,2295.2 442.9,2292.7 446.0,2293.5 445.5,2297.6ZM470.9,2324.0 466.5,2319.9 468.7,2313.2 474.9,2314.1 475.3,2320.4ZM455.0,2379.7 453.4,2377.4 455.2,2373.3 459.3,2373.8 458.4,2379.4ZM451.8,2333.2 449.7,2334.7 447.4,2334.1 445.3,2332.0 448.1,2330.8 450.4,2331.1ZM487.7,2233.7 484.3,2236.0 480.5,2231.4 478.1,2226.8 480.8,2223.7 485.1,2227.1 489.6,2230.3ZM493.7,2234.7 489.4,2235.0 486.0,2228.3 489.3,2224.1 492.5,2224.4 495.3,2226.9 497.3,2232.7ZM466.3,2234.9 460.3,2235.6 457.9,2229.2 463.3,2224.3 467.9,2229.7ZM470.4,2289.0 472.8,2286.2 478.6,2286.7 477.9,2290.8 472.7,2292.3ZM466.0,2338.6 465.6,2332.3 472.7,2330.3 478.3,2335.4 477.2,2343.9 469.1,2342.9ZM455.7,2350.3 452.7,2350.7 449.0,2347.0 449.6,2343.4 453.2,2343.5 457.0,2347.3ZM458.3,2251.1 454.9,2250.0 452.6,2244.9 456.0,2244.0 459.6,2247.7ZM473.4,2297.3 472.3,2296.1 471.7,2294.0 472.2,2292.5 473.1,2291.7 473.8,2293.8 474.1,2295.9ZM499.9,2383.5 497.3,2385.5 491.7,2382.3 493.2,2378.3 496.7,2376.8 502.4,2380.1ZM464.7,2227.2 469.4,2223.8 474.5,2222.6 480.9,2223.2 475.2,2226.5 469.9,2228.6ZM479.8,2281.4 480.7,2277.4 486.9,2275.0 491.7,2275.5 489.4,2279.6 484.0,2281.8ZM436.0,2305.7 437.5,2299.4 444.0,2296.6 446.0,2300.0 442.4,2304.8ZM480.9,2380.8 482.0,2376.3 486.1,2373.6 490.2,2370.8 492.3,2373.2 490.4,2377.7 485.4,2380.8ZM498.1,2246.1 496.9,2244.6 497.9,2241.3 500.0,2239.9 501.0,2242.2 499.9,2245.4ZM447.0,2351.6 444.6,2350.7 441.8,2345.0 444.8,2345.9 447.9,2349.1ZM447.0,2329.4 444.2,2328.0 445.3,2324.2 448.6,2323.3 449.0,2327.5ZM456.6,2249.8 452.4,2247.6 454.5,2241.3 458.8,2241.6 461.7,2248.1ZM456.3,2295.5 452.7,2296.7 448.6,2293.5 450.4,2291.5 454.3,2292.3ZM476.8,2331.5 481.2,2327.3 486.5,2325.0 491.0,2328.8 488.2,2334.0 481.1,2336.6ZM475.2,2358.8 472.6,2354.8 472.8,2349.2 478.4,2348.4 482.2,2350.9 484.7,2355.9 480.7,2360.6ZM485.5,2334.7 486.1,2331.9 487.2,2328.6 490.2,2326.8 490.5,2328.9 489.8,2331.1 488.1,2333.0ZM461.3,2237.6 459.3,2235.9 459.4,2233.8 460.8,2233.4 461.9,2235.1ZM427.7,2259.4 425.9,2258.1 427.8,2256.2 429.7,2256.0 430.6,2257.2 430.6,2258.8 429.2,2260.7ZM464.7,2313.6 458.5,2315.3 452.4,2309.5 455.6,2303.5 462.6,2308.0ZM472.3,2341.6 468.4,2342.5 465.9,2339.7 464.3,2336.4 466.3,2333.0 470.3,2334.9 472.7,2337.8ZM478.8,2276.4 474.6,2276.0 472.5,2273.0 472.0,2267.3 477.8,2268.0 479.8,2272.3ZM463.5,2343.4 462.7,2340.8 465.2,2337.6 467.9,2335.1 467.5,2338.6 466.1,2342.7ZM493.9,2375.3 497.6,2372.6 505.0,2371.3 504.1,2374.5 498.0,2376.9ZM487.4,2279.9 488.9,2276.9 493.0,2277.7 492.1,2281.1 489.3,2282.4ZM471.6,2268.6 468.6,2271.9 464.2,2271.1 460.1,2268.3 464.5,2266.0 469.2,2264.7ZM465.0,2373.7 464.9,2366.4 466.9,2360.0 471.3,2359.0 472.9,2363.2 470.2,2368.2ZM443.8,2354.9 442.1,2349.8 443.2,2344.8 445.0,2340.0 448.6,2339.1 450.2,2345.1 447.0,2350.1ZM502.2,2364.6 504.3,2358.4 511.6,2355.9 514.7,2361.6 508.4,2365.5ZM483.5,2401.6 483.1,2399.8 485.7,2398.9 487.9,2399.1 487.9,2400.7 486.7,2402.0 484.5,2402.9ZM451.7,2306.4 451.7,2302.6 453.3,2298.3 455.4,2296.3 457.4,2295.6 457.3,2299.6 454.6,2304.3ZM473.7,2372.6 472.5,2369.5 474.8,2365.1 478.3,2366.0 480.4,2368.9 476.9,2372.3ZM445.1,2326.5 441.6,2326.3 438.9,2321.6 439.0,2317.9 442.5,2319.3 444.7,2322.9ZM465.2,2294.2 461.3,2296.7 457.1,2295.0 454.3,2291.9 457.5,2288.9 463.1,2289.8ZM479.1,2396.1 481.4,2391.8 485.9,2391.1 488.7,2391.8 491.4,2394.1 488.5,2397.5 484.0,2397.4ZM532.5,2384.3 534.0,2382.2 536.6,2380.3 539.4,2381.0 537.7,2383.5 534.6,2385.7ZM492.2,2360.7 493.1,2357.2 497.0,2356.6 498.7,2360.5 495.3,2362.7ZM464.3,2214.1 460.4,2213.2 458.9,2208.5 461.1,2207.9 463.5,2210.2ZM458.0,2292.4 454.7,2285.5 460.3,2281.0 467.0,2279.1 469.3,2286.1 465.3,2292.4ZM476.0,2305.6 478.6,2301.5 482.8,2296.7 488.3,2296.7 485.6,2301.9 480.5,2305.6ZM456.7,2254.4 454.0,2250.9 451.1,2248.1 453.8,2245.6 456.4,2243.3 459.5,2246.4 459.4,2251.1ZM475.7,2325.9 477.8,2323.6 481.4,2325.0 482.6,2326.8 478.3,2327.4ZM458.5,2298.0 454.4,2298.5 453.2,2294.3 454.6,2290.7 458.0,2290.8 460.8,2292.4 462.2,2296.4ZM472.4,2228.1 473.3,2227.3 475.3,2226.9 478.2,2226.7 478.4,2227.9 475.5,2228.4 472.8,2229.0ZM510.2,2364.6 507.7,2361.9 506.9,2358.4 509.9,2357.5 512.1,2357.1 513.4,2359.4 513.1,2362.5ZM462.0,2355.2 462.4,2352.7 465.7,2351.9 469.1,2353.0 467.1,2356.0 463.9,2356.4ZM472.8,2343.8 470.3,2348.6 465.7,2345.7 464.0,2343.0 465.9,2340.3 469.4,2341.0ZM450.9,2253.2 445.0,2251.3 444.0,2243.9 447.4,2241.4 452.9,2247.3ZM454.7,2339.9 454.6,2338.3 456.1,2336.6 458.0,2335.5 458.4,2337.5 456.3,2340.0ZM467.4,2362.3 467.8,2359.9 469.4,2358.5 472.5,2356.6 473.4,2359.9 472.7,2362.8 469.8,2362.9ZM471.6,2220.4 468.0,2225.4 462.2,2223.0 462.9,2217.7 468.5,2214.4ZM487.9,2394.8 484.8,2395.6 480.9,2392.5 482.1,2388.8 487.4,2391.5ZM476.5,2266.9 471.7,2268.5 466.2,2268.6 467.3,2263.6 470.0,2260.8 474.9,2261.8ZM457.9,2373.4 455.8,2371.9 454.4,2368.4 455.0,2365.1 457.3,2367.8 458.5,2370.9ZM515.9,2371.9 511.7,2370.8 509.9,2366.3 511.2,2363.3 515.3,2367.6ZM497.3,2397.6 497.7,2389.9 500.3,2383.9 507.5,2384.8 508.0,2391.3 505.0,2396.3ZM446.0,2333.6 440.5,2338.2 435.8,2333.5 437.2,2328.0 442.9,2328.2ZM488.5,2350.6 484.2,2351.3 479.9,2348.2 479.5,2341.8 485.6,2340.2 490.8,2341.9 494.6,2347.7ZM491.8,2367.4 497.4,2363.0 501.7,2358.5 506.2,2362.7 506.7,2367.4 502.8,2370.1 497.8,2370.8ZM465.0,2349.6 462.6,2348.4 464.3,2342.5 467.2,2338.4 469.4,2339.8 470.1,2344.2 467.7,2350.0ZM517.2,2387.8 515.4,2387.9 514.1,2385.5 513.2,2382.9 514.7,2381.8 516.7,2383.9 517.8,2386.1ZM457.8,2362.0 460.0,2358.1 464.3,2355.8 469.1,2356.8 469.7,2360.6 466.1,2363.2 461.4,2364.8ZM472.2,2353.4 472.4,2348.2 476.8,2348.1 479.0,2350.1 477.0,2353.7ZM467.9,2335.5 465.3,2334.7 467.4,2330.0 469.3,2328.6 471.4,2329.9 470.4,2335.4ZM465.0,2330.2 463.4,2328.9 464.0,2326.3 466.4,2325.9 467.8,2327.2 468.1,2329.0 466.8,2330.8ZM455.1,2353.1 452.5,2355.3 445.2,2351.9 445.3,2348.4 448.5,2347.3 454.2,2349.8ZM450.2,2360.8 447.0,2359.2 447.4,2351.5 451.0,2347.5 453.2,2352.9 452.9,2358.6ZM437.5,2306.3 434.7,2306.6 434.4,2302.5 435.7,2300.4 438.1,2301.1 440.3,2305.0ZM457.5,2252.2 452.3,2253.6 447.5,2248.0 447.9,2242.0 453.6,2244.1 459.8,2247.0ZM497.3,2220.3 493.8,2218.0 493.9,2212.2 498.9,2212.7 500.6,2217.6ZM457.6,2281.2 455.4,2276.8 460.4,2275.3 464.0,2276.8 464.6,2280.8 460.8,2282.3ZM475.7,2261.8 472.3,2264.0 467.8,2260.8 467.5,2257.1 474.2,2258.0ZM453.0,2234.6 448.0,2232.2 445.0,2226.6 450.7,2225.6 453.5,2229.1ZM474.6,2274.7 473.4,2270.1 477.5,2265.2 480.1,2266.4 478.6,2272.2ZM494.4,2354.4 492.9,2354.6 491.6,2352.2 491.4,2350.7 492.8,2350.2 494.0,2352.8ZM474.6,2217.6 470.5,2215.5 464.8,2208.7 468.1,2206.7 473.8,2213.2ZM464.5,2305.2 460.0,2299.4 458.0,2290.5 463.5,2290.3 465.1,2297.8ZM495.8,2232.8 496.4,2230.6 499.4,2228.5 502.7,2230.0 503.2,2232.8 500.6,2235.0 497.6,2234.0ZM454.3,2241.9 455.4,2239.2 460.1,2239.7 460.9,2241.6 456.8,2243.3ZM455.7,2232.1 456.6,2228.1 460.8,2224.7 462.7,2226.7 463.4,2228.9 460.0,2230.9ZM486.1,2230.6 482.2,2233.0 478.9,2231.6 476.3,2229.4 478.3,2225.9 482.4,2227.8ZM482.7,2325.0 477.1,2330.0 468.5,2328.2 469.0,2320.5 478.3,2318.0ZM499.8,2266.1 496.2,2268.8 492.4,2265.7 493.2,2262.0 498.2,2262.1ZM444.2,2221.8 439.8,2215.3 445.4,2209.0 452.2,2212.0 449.7,2218.3ZM449.1,2241.2 450.6,2237.9 453.3,2234.5 456.6,2233.3 460.9,2232.5 456.2,2237.6 452.4,2240.3ZM428.0,2243.8 424.8,2243.8 423.3,2238.8 426.7,2236.4 429.9,2234.8 431.9,2239.0 430.3,2242.8ZM465.2,2277.1 461.8,2279.9 458.4,2277.7 457.6,2275.0 459.5,2272.6 464.2,2272.5ZM518.4,2370.9 518.8,2367.6 521.3,2364.5 524.5,2364.8 526.9,2366.1 525.0,2369.5 521.6,2371.8ZM481.6,2261.7 479.6,2257.7 481.5,2252.4 483.9,2254.6 484.2,2258.1ZM444.9,2354.5 445.2,2352.7 447.1,2351.4 449.4,2350.7 449.7,2352.2 448.6,2353.8 447.0,2354.4ZM455.8,2308.9 458.9,2306.2 463.4,2304.3 465.1,2306.5 459.8,2308.6ZM468.4,2226.4 466.3,2226.9 463.0,2225.5 463.9,2224.1 467.2,2224.5ZM482.4,2239.7 475.7,2237.9 470.6,2236.8 469.9,2232.1 471.6,2228.6 476.2,2230.7 479.8,2233.6ZM490.7,2353.4 486.6,2352.8 483.6,2347.7 488.0,2346.3 492.9,2349.1ZM444.9,2301.2 443.4,2300.4 443.5,2297.4 444.6,2297.5 445.7,2299.8ZM427.7,2261.0 422.9,2256.0 421.1,2248.4 427.6,2248.8 430.0,2254.4ZM436.2,2271.1 433.3,2270.4 429.8,2268.4 428.7,2264.0 431.0,2261.6 435.5,2263.7 436.7,2268.2ZM424.4,2255.7 423.1,2253.9 423.1,2249.7 426.5,2247.5 427.7,2251.5 426.8,2255.3ZM476.0,2372.2 474.7,2367.4 478.9,2361.6 480.5,2364.4 480.1,2369.4ZM516.4,2395.9 510.6,2392.9 506.3,2387.5 507.3,2383.8 513.1,2390.0ZM471.5,2244.6 467.2,2245.0 465.5,2240.1 463.9,2236.3 466.5,2234.1 470.2,2236.5 470.7,2240.1ZM485.9,2357.6 481.7,2358.5 478.5,2355.3 478.6,2350.6 485.1,2353.0ZM483.1,2265.4 480.2,2262.1 483.6,2258.8 487.2,2254.9 492.0,2257.7 491.5,2263.6 487.5,2268.0ZM454.3,2258.5 454.8,2257.1 458.0,2255.2 457.5,2256.9 455.8,2258.4ZM438.9,2240.9 439.6,2238.4 442.8,2237.6 445.1,2239.0 446.3,2241.3 443.4,2242.8 441.0,2242.1ZM453.6,2315.1 450.3,2312.9 451.1,2307.7 455.5,2306.7 457.0,2310.2 457.4,2314.3ZM556.6,2439.1 554.1,2440.0 548.1,2439.7 546.9,2437.1 549.3,2435.4 555.1,2437.1ZM595.5,2454.2 595.0,2458.7 589.0,2458.7 587.1,2454.2 586.7,2450.1 591.3,2447.1 595.6,2450.6ZM649.5,2437.4 644.9,2438.9 636.1,2435.1 640.4,2430.8 648.6,2432.2ZM535.9,2430.6 533.5,2430.6 530.3,2428.2 532.4,2425.6 533.9,2424.1 536.8,2425.1 538.2,2429.0ZM595.4,2436.8 594.8,2435.2 594.9,2433.1 596.9,2431.7 598.5,2432.9 598.4,2435.0 596.9,2436.3ZM565.8,2420.5 564.7,2417.9 564.9,2414.7 568.2,2413.6 569.4,2416.6 569.0,2420.1ZM541.2,2380.4 538.6,2382.0 533.3,2382.1 529.5,2379.2 534.4,2377.7 539.2,2378.2ZM706.3,2464.4 705.1,2461.7 706.3,2458.8 709.0,2458.2 711.5,2460.4 709.9,2464.8ZM542.7,2415.2 539.1,2417.9 534.5,2414.9 532.4,2410.6 536.8,2408.0 540.5,2411.6ZM576.5,2441.4 573.7,2439.1 571.4,2435.7 573.2,2434.4 575.5,2433.8 577.8,2438.3ZM587.9,2447.3 585.1,2446.0 583.2,2444.4 583.2,2441.8 584.9,2439.4 587.6,2441.6 589.6,2444.7ZM494.1,2411.0 498.5,2406.9 505.0,2403.9 504.7,2409.0 499.9,2413.4ZM604.6,2420.1 605.1,2417.2 608.4,2414.9 613.1,2413.8 612.3,2417.4 610.4,2419.5 606.7,2422.8ZM648.6,2471.2 645.5,2467.3 645.9,2460.2 649.5,2456.4 651.1,2462.0 651.1,2466.4ZM522.8,2374.3 519.0,2377.5 512.7,2376.2 514.9,2370.2 521.1,2368.6ZM542.0,2396.8 543.6,2392.8 548.7,2389.5 550.2,2391.4 551.0,2393.6 546.2,2397.1ZM526.5,2435.3 521.8,2431.7 524.3,2427.4 527.3,2427.1 529.7,2430.8ZM592.9,2426.3 590.7,2427.3 588.2,2426.6 587.0,2425.0 588.8,2424.2 591.6,2424.3ZM475.8,2395.5 474.8,2391.8 474.4,2387.3 478.2,2388.4 481.3,2390.1 480.0,2394.7ZM507.6,2405.2 509.5,2399.8 515.5,2397.8 518.7,2399.7 513.3,2404.9ZM521.4,2424.7 521.5,2422.2 523.5,2420.1 526.1,2420.3 526.3,2422.3 526.2,2424.3 524.0,2424.4ZM465.8,2382.5 466.6,2380.5 469.4,2380.5 469.9,2381.5 467.8,2383.0ZM532.9,2386.5 527.8,2382.7 531.6,2372.8 536.8,2377.6 537.7,2384.0ZM518.1,2394.1 515.9,2392.1 516.8,2387.9 520.5,2387.8 523.3,2390.3 520.8,2393.7ZM558.2,2435.6 560.6,2429.8 566.5,2431.7 567.2,2435.3 563.1,2439.3ZM503.6,2405.0 502.7,2401.5 504.3,2397.5 506.7,2398.4 506.5,2402.8ZM603.5,2438.5 606.0,2434.2 612.0,2432.6 616.5,2433.8 614.3,2437.8 607.6,2441.4ZM577.7,2439.2 574.8,2435.8 579.7,2434.8 584.1,2432.8 585.9,2437.0 584.1,2441.4 579.8,2440.6ZM686.4,2474.5 689.5,2469.5 693.8,2466.9 695.3,2468.3 691.7,2472.1ZM642.2,2470.2 637.4,2470.8 630.9,2468.0 635.0,2462.7 639.8,2461.1 646.7,2464.7ZM626.0,2454.8 624.2,2456.4 620.0,2454.7 618.4,2451.6 621.8,2451.0 626.1,2452.3ZM638.2,2451.0 634.9,2450.0 634.7,2446.1 635.1,2442.3 638.6,2441.2 640.9,2444.8 640.5,2448.7ZM630.5,2436.7 628.5,2433.9 631.6,2431.1 633.5,2432.8 633.5,2436.1ZM628.0,2420.3 624.0,2419.8 621.6,2417.5 622.5,2414.8 626.7,2416.4ZM526.8,2380.9 525.6,2379.1 525.2,2376.8 525.8,2374.8 527.1,2374.5 528.4,2376.4 527.8,2378.9ZM524.0,2384.5 524.3,2381.2 527.5,2379.5 529.0,2382.0 527.5,2385.5ZM682.4,2462.0 679.4,2462.3 674.4,2460.3 674.3,2457.2 677.4,2456.8 682.4,2459.1ZM533.6,2430.4 531.4,2426.8 533.2,2422.2 537.3,2423.3 541.7,2423.6 541.4,2428.5 537.6,2431.1ZM591.4,2426.6 590.3,2424.9 591.0,2421.7 591.6,2419.8 592.7,2419.1 592.8,2421.9 592.6,2424.4ZM588.6,2428.9 586.9,2427.8 585.2,2425.9 586.0,2424.3 587.8,2424.4 589.1,2427.1ZM487.0,2377.7 485.2,2377.3 482.7,2376.2 483.1,2374.9 484.4,2374.5 486.0,2376.1ZM575.3,2451.9 573.7,2450.1 572.9,2445.8 574.1,2443.1 575.7,2445.9 575.9,2449.2ZM507.8,2396.8 506.0,2396.0 505.6,2392.4 507.1,2392.4 509.1,2395.2ZM559.3,2408.4 559.8,2406.5 561.6,2403.9 562.2,2405.7 561.0,2407.5ZM621.2,2410.3 618.7,2412.7 615.1,2411.9 613.4,2409.1 616.2,2407.4 619.2,2407.8ZM581.8,2414.2 581.9,2407.9 588.3,2404.8 592.5,2403.9 593.4,2408.1 588.0,2414.4ZM550.2,2410.0 553.6,2407.2 558.2,2404.7 561.6,2406.3 561.4,2408.3 559.5,2411.1 554.4,2411.1ZM566.9,2451.9 567.6,2448.6 570.5,2445.5 573.0,2447.1 574.3,2448.4 574.0,2451.2 570.2,2453.0ZM610.5,2463.1 610.2,2461.1 611.4,2458.7 612.5,2457.8 612.6,2459.4 612.0,2461.4ZM517.8,2378.8 516.8,2376.7 518.7,2374.6 521.6,2374.7 520.3,2378.6ZM669.8,2449.2 667.9,2448.7 667.5,2446.2 668.9,2444.8 670.7,2443.4 672.0,2445.9 671.9,2448.8ZM578.1,2455.0 575.2,2453.7 574.7,2450.6 576.4,2449.0 577.8,2451.9ZM595.1,2399.9 592.7,2401.8 587.6,2400.7 582.1,2397.4 587.4,2395.0 595.3,2396.3ZM685.0,2480.5 686.5,2476.6 688.3,2472.7 691.6,2473.5 692.6,2475.1 692.8,2478.1 689.1,2479.6ZM589.5,2443.3 589.1,2442.2 590.8,2440.8 592.8,2439.9 592.0,2442.0 590.7,2443.7ZM532.6,2377.8 529.3,2379.1 528.7,2375.1 528.8,2372.6 531.0,2370.4 534.1,2372.2 534.0,2375.5ZM715.5,2459.0 711.8,2462.8 701.8,2460.0 703.3,2455.4 712.5,2454.6ZM572.8,2404.2 568.9,2403.1 568.4,2397.2 572.8,2393.9 578.0,2396.6 577.8,2403.8ZM515.5,2390.3 516.6,2385.6 520.7,2382.7 523.7,2383.9 525.7,2387.5 520.3,2392.5ZM565.5,2430.0 564.3,2432.0 561.8,2430.4 561.1,2428.2 562.1,2426.7 564.3,2426.7 566.4,2428.1ZM519.7,2426.3 516.6,2426.1 513.7,2423.0 511.5,2419.0 513.4,2416.4 517.2,2420.2 520.5,2423.3ZM546.6,2429.1 550.1,2424.1 558.2,2424.2 560.2,2431.5 551.1,2433.2ZM614.9,2435.2 612.6,2434.3 612.6,2430.8 614.6,2430.3 615.4,2433.1ZM667.1,2469.3 669.2,2464.2 675.7,2464.4 680.4,2468.2 675.8,2471.9 670.5,2473.0ZM496.0,2394.9 499.6,2391.1 505.3,2389.9 507.1,2391.8 500.9,2396.3ZM531.1,2386.8 530.1,2387.5 527.4,2387.7 525.3,2385.4 526.1,2383.6 529.2,2384.4 531.2,2385.4ZM650.2,2461.8 647.0,2460.7 646.6,2455.8 649.0,2451.8 652.2,2455.4 653.8,2460.5ZM496.3,2390.0 495.6,2386.5 495.1,2383.4 497.2,2381.0 498.9,2382.2 500.3,2384.5 498.7,2387.7ZM589.6,2417.3 586.1,2416.7 583.7,2413.2 585.1,2410.5 586.8,2407.7 589.2,2411.0 589.6,2413.6ZM584.2,2455.9 583.4,2453.4 585.1,2449.7 588.2,2447.8 589.4,2451.1 586.7,2455.1ZM571.0,2441.5 568.5,2442.0 568.5,2439.0 569.8,2436.3 572.2,2438.1 572.5,2440.4ZM536.0,2431.5 532.4,2429.2 531.7,2425.3 534.7,2423.6 538.0,2427.3ZM495.6,2384.0 493.3,2382.7 491.1,2380.6 490.2,2378.3 490.7,2376.8 493.4,2378.5 494.6,2381.4ZM538.1,2437.4 542.5,2434.4 547.0,2434.2 549.4,2436.6 543.2,2438.8ZM528.3,2418.5 525.6,2417.5 523.3,2414.1 524.5,2409.7 528.3,2408.5 529.7,2413.1 531.9,2417.4ZM511.3,2407.6 510.2,2405.5 516.0,2404.8 520.2,2405.4 518.6,2407.3 516.2,2408.6 511.8,2409.2ZM629.4,2432.7 625.7,2432.2 624.2,2428.7 627.3,2427.0 631.1,2428.7ZM608.5,2456.7 604.5,2454.3 602.7,2449.0 606.9,2447.5 609.8,2449.1 611.3,2453.1ZM633.5,2454.7 631.8,2453.9 630.0,2450.9 631.1,2449.2 632.9,2450.4 634.1,2452.9ZM568.9,2436.5 568.8,2434.7 569.8,2432.0 572.1,2430.8 573.5,2431.6 572.5,2434.2 570.6,2435.9ZM534.2,2415.7 533.1,2413.3 533.6,2409.9 536.0,2410.5 535.8,2413.6ZM645.4,2439.0 643.9,2436.9 642.9,2433.8 645.9,2433.3 647.2,2435.1 647.5,2437.4ZM613.0,2440.9 615.5,2436.4 621.5,2435.9 627.4,2437.3 627.2,2442.2 622.4,2445.2 617.6,2443.5ZM577.8,2437.5 577.7,2434.3 579.6,2432.0 582.9,2430.4 583.0,2434.0 581.0,2437.0ZM597.4,2417.5 595.5,2412.0 598.5,2407.9 603.7,2408.1 604.2,2416.1ZM534.0,2408.5 528.9,2411.3 523.0,2410.0 520.5,2403.3 527.0,2400.5 534.5,2401.0ZM521.9,2402.6 520.4,2402.0 517.9,2400.0 518.3,2397.4 519.6,2397.4 521.7,2398.0 522.2,2401.2ZM561.8,2434.3 564.2,2431.1 569.4,2431.2 570.7,2433.7 569.3,2436.0 564.5,2437.3ZM681.0,2452.6 677.5,2454.3 674.5,2453.9 672.3,2452.5 670.7,2449.5 675.1,2449.7 678.2,2450.0ZM528.7,2386.0 527.6,2382.9 531.3,2379.9 533.7,2382.7 533.3,2385.2 531.1,2386.8ZM502.5,2377.9 498.2,2378.0 497.8,2373.7 501.2,2370.0 507.0,2373.6ZM645.5,2443.3 642.8,2442.7 640.4,2439.5 641.0,2438.0 645.0,2440.6ZM600.5,2437.7 599.2,2438.8 595.4,2438.5 593.3,2437.2 595.0,2435.7 599.3,2436.5ZM611.8,2444.3 610.1,2448.1 604.4,2444.6 601.6,2440.2 604.2,2437.5 608.6,2438.8 614.8,2441.0ZM508.4,2415.3 502.2,2418.2 494.1,2415.0 495.5,2410.1 498.9,2408.3 505.6,2409.1ZM545.7,2409.8 540.1,2406.4 542.4,2399.4 549.0,2398.3 549.4,2405.5ZM652.4,2452.8 649.9,2455.2 648.1,2452.3 648.0,2450.3 649.7,2448.0 653.1,2449.4ZM599.9,2419.0 599.0,2416.6 600.5,2411.4 603.0,2409.4 603.0,2413.2 601.8,2416.6ZM522.0,2426.5 521.0,2424.3 522.3,2420.9 526.1,2420.1 527.5,2423.0 526.7,2425.8 524.2,2427.2ZM606.5,2409.5 604.6,2413.1 600.2,2411.5 598.8,2408.6 600.9,2406.2 604.5,2406.7ZM618.6,2444.3 614.4,2447.6 608.6,2445.8 606.9,2440.3 611.6,2437.4 616.0,2440.2ZM561.7,2429.1 559.6,2429.3 557.2,2428.8 555.2,2426.9 558.2,2426.9 560.9,2427.3ZM618.2,2430.1 616.1,2430.9 616.7,2425.3 617.8,2421.9 619.8,2419.9 620.1,2425.5 619.4,2428.9ZM542.3,2407.1 540.1,2406.5 540.4,2402.5 543.0,2402.2 544.4,2403.9 544.2,2406.6ZM611.0,2463.0 606.5,2461.9 604.5,2457.1 607.1,2456.4 610.2,2458.6ZM530.3,2407.0 524.8,2408.1 519.2,2405.8 518.3,2398.3 525.9,2395.4 532.8,2400.1ZM487.3,2393.3 486.4,2391.1 488.1,2387.1 490.2,2388.1 489.5,2392.1ZM532.5,2429.2 527.0,2430.0 527.1,2423.2 530.2,2417.5 535.0,2421.9 538.1,2427.9ZM572.9,2449.7 574.7,2446.7 579.4,2445.0 584.6,2445.5 583.2,2448.7 581.5,2452.5 576.5,2451.0ZM668.0,2465.2 669.3,2462.7 676.4,2462.4 679.2,2464.5 676.6,2466.9 671.0,2466.5ZM571.1,2424.0 573.2,2419.2 576.9,2416.3 578.3,2417.8 575.8,2421.9ZM686.9,2456.1 682.7,2454.3 683.7,2450.5 685.6,2448.3 689.2,2448.8 691.0,2453.2ZM578.1,2432.1 572.3,2433.3 568.1,2431.2 567.6,2427.3 570.4,2422.9 575.7,2426.7ZM560.0,2433.2 556.1,2431.2 551.8,2425.1 556.2,2423.1 561.2,2428.8ZM569.0,2397.8 567.1,2396.8 565.3,2394.9 566.5,2392.8 569.0,2392.8 569.7,2395.7ZM642.0,2460.8 645.7,2454.4 651.5,2452.0 654.5,2458.2 649.9,2464.2ZM508.1,2404.4 506.0,2401.1 508.1,2397.6 510.3,2398.7 511.0,2401.9ZM572.6,2434.0 573.9,2431.4 578.1,2432.3 578.6,2435.2 574.3,2436.1ZM495.8,2388.3 493.8,2385.2 495.6,2380.3 497.5,2375.4 500.7,2375.7 500.5,2381.3 499.0,2386.7ZM603.8,2415.4 599.4,2415.0 598.1,2409.1 597.4,2402.8 602.9,2404.7 606.7,2411.8ZM640.1,2443.2 635.2,2445.3 630.1,2436.3 634.9,2434.2 639.9,2439.1ZM517.0,2380.7 518.9,2375.6 525.2,2376.0 525.9,2382.2 520.3,2385.6ZM589.7,2458.7 586.7,2458.6 583.1,2454.3 584.6,2450.3 587.1,2449.6 590.0,2451.9 590.9,2456.1ZM688.2,2457.4 685.8,2457.2 682.7,2455.7 682.6,2452.9 683.2,2450.2 686.7,2451.9 689.6,2455.2ZM544.6,2412.1 545.0,2406.6 546.2,2402.0 549.7,2400.5 554.9,2398.8 552.4,2405.5 549.4,2410.6ZM660.4,2454.8 660.8,2451.6 663.0,2449.5 665.6,2449.9 663.3,2453.4ZM699.2,2463.7 699.9,2461.0 704.6,2460.6 709.4,2461.7 706.5,2465.3 700.9,2465.8ZM686.0,2458.1 678.6,2462.1 670.9,2458.2 673.9,2451.3 681.1,2451.6ZM560.8,2411.8 559.3,2405.8 559.9,2401.5 564.5,2398.3 566.3,2403.6 566.3,2408.7ZM511.3,2399.2 507.3,2400.9 502.3,2394.7 503.3,2390.7 511.3,2395.0ZM562.0,2398.3 561.2,2396.1 563.4,2394.4 564.9,2394.4 566.0,2395.9 564.1,2397.3ZM585.0,2446.8 582.1,2445.9 579.2,2444.8 579.6,2442.2 582.1,2441.5 584.2,2444.0ZM481.5,2391.0 476.4,2393.4 468.9,2391.7 470.0,2388.7 476.9,2387.8ZM641.1,2433.4 637.7,2434.5 633.2,2433.8 632.3,2431.4 638.3,2431.3ZM499.0,2390.7 496.2,2385.1 500.8,2378.2 507.3,2378.2 508.1,2384.3 504.5,2388.9ZM538.0,2438.8 536.4,2437.1 538.6,2432.4 541.4,2430.7 541.4,2434.4 540.1,2438.2ZM535.6,2401.6 535.8,2399.2 536.8,2396.5 539.7,2394.8 540.0,2397.3 540.3,2399.5 537.9,2401.7ZM588.8,2427.1 584.2,2426.5 580.1,2421.6 583.5,2416.8 588.2,2414.5 591.3,2419.2 593.0,2424.5ZM618.9,2455.2 615.9,2460.6 610.1,2458.7 603.7,2455.3 607.7,2449.5 612.8,2446.7 618.5,2449.3ZM608.3,2455.0 606.8,2453.1 606.3,2450.1 606.6,2448.4 607.3,2446.6 608.6,2449.4 608.3,2451.8ZM558.4,2416.4 560.6,2412.7 567.7,2408.6 568.1,2414.3 562.7,2417.5ZM505.1,2418.3 500.6,2417.9 498.4,2413.4 497.8,2408.5 501.6,2406.6 505.8,2409.4 507.0,2414.3ZM565.5,2389.8 561.4,2390.1 554.8,2388.2 556.9,2385.8 563.7,2386.3ZM473.5,2387.2 470.8,2384.4 475.5,2380.1 479.6,2379.0 481.2,2383.0 477.0,2388.9ZM505.7,2386.5 501.6,2383.3 499.1,2376.8 502.0,2376.1 505.1,2381.2ZM470.6,2384.2 472.4,2382.4 474.4,2381.6 476.5,2381.7 475.9,2383.6 472.9,2384.6ZM490.5,2414.4 492.9,2406.9 499.9,2401.9 502.7,2408.8 498.5,2414.5ZM539.9,2420.7 533.8,2417.5 528.9,2410.4 532.7,2404.1 539.7,2406.1 542.7,2414.4ZM609.6,2430.0 605.7,2428.1 603.6,2424.1 603.0,2420.6 606.2,2422.2 609.6,2425.8ZM476.6,2378.2 471.8,2380.0 467.1,2380.4 465.7,2378.1 467.7,2376.4 472.5,2375.8ZM552.2,2432.8 550.8,2433.3 548.4,2431.4 548.3,2428.7 550.0,2428.4 552.4,2428.6 552.6,2431.5ZM535.4,2404.4 533.7,2406.2 527.0,2405.4 522.8,2402.5 525.5,2401.2 528.7,2400.5 533.1,2402.3ZM544.0,2425.9 541.2,2422.9 537.8,2417.9 539.2,2414.4 540.3,2410.7 542.8,2417.2 545.5,2423.0ZM638.2,2430.2 636.1,2432.5 632.7,2431.8 630.7,2429.4 630.2,2425.7 634.5,2424.7 638.0,2427.0ZM584.9,2439.7 580.4,2442.8 575.5,2443.0 574.3,2438.9 575.2,2433.5 581.0,2435.7ZM600.3,2406.6 595.4,2409.8 590.2,2407.6 589.0,2402.8 596.0,2402.7ZM696.3,2478.1 691.3,2477.6 688.0,2475.0 687.8,2471.7 694.1,2473.7ZM643.5,2451.3 640.9,2452.2 638.9,2449.1 640.1,2446.4 642.2,2445.3 645.7,2445.9 645.5,2449.9ZM508.1,2408.3 505.3,2404.9 504.3,2401.8 504.9,2398.3 507.7,2400.1 509.8,2404.6ZM498.3,2390.0 497.5,2384.4 503.2,2380.3 507.8,2383.4 504.2,2390.4ZM533.6,2399.9 532.0,2396.2 533.2,2390.8 536.3,2390.5 539.0,2392.3 536.5,2396.7ZM528.7,2396.2 525.7,2393.9 524.9,2388.0 530.2,2388.0 533.5,2393.9ZM595.9,2418.7 589.2,2414.0 588.3,2408.3 593.1,2402.6 597.6,2410.5ZM597.4,2442.7 591.0,2439.7 588.0,2433.8 593.3,2430.9 600.0,2435.0ZM617.6,2428.1 617.5,2423.2 625.5,2420.8 625.8,2426.2 621.5,2431.1ZM586.8,2425.8 585.4,2424.0 586.4,2420.8 588.8,2421.8 589.9,2423.4 588.9,2425.7ZM632.9,2450.9 630.5,2451.5 628.7,2450.4 627.7,2449.0 629.4,2448.5 631.3,2448.9ZM520.5,2385.9 517.6,2383.0 519.2,2378.7 522.7,2378.5 523.4,2383.2ZM539.8,2411.8 534.2,2410.7 532.1,2404.6 536.0,2399.9 541.5,2406.2ZM499.0,2416.0 495.0,2415.7 493.4,2411.0 492.5,2406.1 496.4,2404.2 499.8,2408.1 499.4,2411.9ZM680.1,2454.9 678.2,2454.7 678.5,2450.1 680.2,2447.0 681.9,2447.5 682.8,2450.6 681.6,2454.4ZM644.4,2472.2 642.2,2469.4 644.4,2462.6 647.0,2460.8 647.8,2464.3 647.6,2470.6ZM600.2,2417.0 595.3,2416.3 594.6,2409.4 596.2,2405.4 599.7,2402.6 602.6,2407.8 603.7,2413.8ZM574.0,2433.2 571.1,2434.9 568.6,2433.1 568.3,2431.0 569.7,2428.6 573.2,2429.7ZM589.4,2462.2 592.3,2456.9 597.7,2455.1 601.3,2455.4 601.7,2459.0 595.6,2461.9ZM585.9,2452.0 586.0,2448.3 592.6,2445.2 598.0,2446.3 598.1,2449.6 595.2,2453.5 589.4,2453.2ZM636.2,2440.6 634.1,2440.7 633.0,2437.6 635.2,2437.2 637.8,2438.8ZM652.9,2465.7 651.5,2466.8 650.1,2464.9 649.7,2463.1 651.5,2463.2 653.4,2464.1ZM574.7,2412.1 570.8,2412.6 566.8,2409.2 565.8,2404.6 568.3,2401.5 572.5,2404.7 576.4,2408.4ZM607.2,2442.3 606.5,2440.5 608.4,2438.3 609.8,2437.2 610.8,2438.5 609.0,2441.4ZM925.6,2328.6 923.6,2328.5 920.5,2327.4 921.1,2326.2 922.0,2325.5 924.5,2327.0ZM958.6,2356.7 959.6,2355.6 962.0,2355.4 963.6,2355.4 964.2,2356.1 962.5,2357.1 959.9,2357.4ZM952.9,2352.2 949.0,2352.7 945.5,2349.5 947.3,2346.9 950.5,2349.2ZM924.7,2353.2 925.2,2351.3 927.0,2349.9 928.6,2349.7 929.0,2351.2 926.7,2352.5ZM927.1,2346.4 923.2,2347.4 922.9,2342.9 926.4,2341.4 928.4,2344.0ZM940.5,2349.0 936.9,2348.5 933.9,2345.8 935.0,2343.3 938.6,2345.9ZM905.1,2337.6 906.9,2336.8 908.1,2336.4 910.2,2336.4 910.1,2337.6 908.4,2338.3 906.3,2338.6ZM952.1,2357.0 950.1,2357.7 948.5,2355.5 949.0,2353.6 951.7,2355.0ZM933.0,2337.7 936.5,2335.2 940.1,2335.6 941.3,2337.6 939.9,2339.4 936.9,2339.6ZM906.7,2342.7 906.8,2341.5 909.5,2341.5 910.7,2342.3 910.7,2343.0 909.5,2343.7 907.4,2343.5ZM922.2,2343.2 920.5,2342.0 920.3,2338.6 921.9,2338.3 923.2,2341.4ZM952.8,2359.8 951.1,2356.0 951.4,2350.6 953.4,2352.3 954.0,2355.7ZM925.9,2341.7 925.8,2338.8 928.4,2338.3 931.1,2337.9 931.2,2340.9 928.6,2342.3ZM915.0,2351.4 915.6,2347.3 918.4,2345.9 921.5,2347.8 919.2,2350.9ZM468.7,2197.9 468.4,2193.8 473.5,2190.1 478.7,2193.5 480.6,2198.7 474.6,2200.6 469.8,2201.8ZM447.1,2189.1 446.2,2191.8 440.6,2190.9 436.9,2188.7 441.3,2187.3 446.0,2186.6ZM467.9,2172.0 460.6,2176.9 450.9,2176.6 452.8,2168.0 461.4,2165.3ZM483.6,2213.6 476.7,2209.7 473.7,2203.7 476.6,2199.2 482.9,2205.8ZM471.8,2197.8 470.5,2197.7 469.0,2195.8 469.6,2194.4 470.1,2192.5 471.4,2194.9 472.8,2196.9ZM491.7,2181.7 488.0,2184.1 482.8,2182.3 482.5,2180.5 488.0,2179.3ZM465.8,2193.3 460.8,2194.3 454.9,2190.1 456.3,2185.6 456.2,2180.1 461.6,2184.7 465.0,2188.1ZM467.5,2205.5 469.7,2202.8 473.6,2200.9 476.2,2203.4 474.9,2206.6 470.7,2206.9ZM461.2,2198.3 459.1,2196.3 460.9,2193.1 463.9,2194.6 463.8,2197.7ZM477.6,2208.8 479.2,2205.8 482.4,2202.6 484.8,2203.2 485.9,2205.6 480.5,2209.3ZM433.5,2193.1 432.4,2189.0 436.3,2184.3 440.6,2182.6 443.5,2186.6 438.1,2194.5ZM478.1,2188.5 475.0,2189.1 471.5,2189.2 468.7,2186.9 469.5,2184.9 472.9,2184.6 476.6,2186.0ZM452.5,2199.9 449.2,2198.8 449.5,2195.0 451.1,2193.0 453.9,2191.3 455.3,2194.6 455.4,2198.2ZM449.3,2181.1 446.5,2179.8 446.3,2175.5 449.3,2173.1 451.7,2176.0 452.5,2180.1ZM482.8,2196.2 488.5,2192.3 493.3,2190.3 500.2,2191.1 498.2,2196.0 494.1,2198.1 488.0,2199.9ZM456.1,2199.6 449.3,2195.8 450.3,2187.7 457.0,2183.8 460.6,2189.8 460.9,2194.9ZM455.9,2197.2 454.9,2192.7 458.7,2190.9 462.1,2191.4 459.6,2194.9ZM465.3,2186.5 464.5,2184.0 467.5,2181.4 469.3,2181.3 467.6,2185.2ZM458.2,2176.4 455.9,2175.0 453.2,2170.7 451.7,2164.5 454.9,2166.2 457.5,2169.1 458.5,2173.4ZM456.5,2195.0 453.7,2193.3 453.0,2186.7 455.4,2184.3 457.5,2187.3 458.8,2192.7ZM467.2,2194.5 464.6,2192.4 466.7,2189.5 469.5,2189.1 471.6,2191.4 469.9,2194.0ZM473.3,2199.8 471.0,2199.0 468.4,2196.6 468.6,2195.1 470.1,2194.7 472.7,2197.6ZM452.1,2199.0 449.8,2202.8 444.4,2201.3 440.3,2198.5 442.9,2193.7 450.7,2194.4ZM445.6,2196.2 442.5,2189.6 441.4,2185.3 444.0,2181.0 449.9,2179.4 453.3,2185.4 451.9,2192.5ZM421.6,2183.5 422.9,2179.9 429.6,2175.9 431.6,2179.1 425.5,2184.0ZM625.9,2417.7 623.6,2418.1 619.4,2413.9 618.5,2410.8 620.1,2410.7 622.5,2411.3 624.6,2414.6ZM635.9,2419.8 631.3,2421.2 626.3,2422.0 623.0,2418.0 623.7,2413.8 629.2,2414.0 632.4,2416.3ZM628.7,2414.5 624.4,2414.7 621.3,2414.0 616.4,2412.2 617.4,2409.7 622.1,2409.2 626.3,2411.7ZM628.3,2404.3 626.0,2400.4 630.0,2394.5 635.1,2389.0 635.9,2395.9 632.2,2401.7ZM610.1,2393.6 607.9,2390.4 608.7,2385.7 610.6,2386.3 611.2,2389.7ZM606.4,2406.3 605.4,2402.7 604.5,2397.0 608.9,2396.5 612.0,2396.1 613.3,2400.7 609.8,2405.2ZM631.7,2419.6 634.8,2414.6 640.9,2412.5 646.1,2414.4 643.1,2419.0 637.8,2420.1ZM613.2,2390.1 615.3,2385.9 620.7,2381.8 621.1,2385.3 617.8,2389.5ZM572.5,2400.3 574.2,2395.4 582.1,2393.5 585.2,2397.3 583.8,2401.8 576.6,2403.3ZM604.6,2394.4 600.4,2392.1 599.3,2386.1 604.3,2385.3 608.3,2386.4 608.4,2391.7ZM611.7,2397.9 606.9,2393.8 609.3,2387.3 615.9,2383.5 618.7,2394.7ZM598.9,2381.4 595.2,2381.2 594.3,2377.9 593.9,2374.4 597.3,2374.5 599.5,2375.7 601.4,2378.6ZM603.5,2409.6 604.8,2407.8 606.8,2405.7 609.5,2405.3 609.8,2406.6 607.7,2408.2 605.4,2409.9ZM587.5,2407.8 585.3,2402.1 584.9,2395.9 590.3,2397.0 595.2,2398.7 592.2,2403.8ZM611.0,2401.6 607.6,2401.8 604.6,2399.2 606.5,2397.9 609.2,2398.7ZM609.4,2394.8 608.5,2392.0 611.7,2390.9 614.3,2392.1 611.9,2395.0ZM577.1,2387.3 572.5,2384.1 572.4,2378.1 574.7,2375.2 578.6,2381.9ZM625.8,2400.2 625.8,2398.7 627.3,2397.1 629.8,2396.9 629.9,2398.8 628.8,2400.3 627.0,2400.8ZM591.8,2380.8 587.8,2380.1 586.7,2374.1 591.2,2371.7 595.4,2370.9 598.9,2375.5 595.2,2380.4ZM615.4,2411.3 612.6,2408.4 616.6,2401.4 621.2,2400.2 622.8,2404.7 619.0,2410.2ZM638.0,2419.0 635.6,2418.3 635.8,2415.0 636.5,2410.3 639.2,2413.2 642.4,2414.8 641.4,2419.8ZM579.7,2383.8 573.8,2384.9 569.4,2382.4 568.7,2376.7 574.3,2373.5 577.7,2378.2ZM585.1,2378.3 577.6,2379.7 570.4,2375.3 572.9,2372.6 579.6,2372.9ZM598.3,2412.8 590.9,2412.7 590.2,2403.4 596.9,2398.2 602.4,2403.6 602.7,2409.9ZM625.3,2409.3 618.1,2403.5 621.0,2395.0 626.6,2389.6 631.7,2395.5 630.8,2402.6ZM502.8,2371.4 530.4,2373.7 562.7,2371.4 585.7,2376.0 558.1,2385.3 539.6,2394.5 516.6,2387.6M581.1,2376.0 599.5,2373.7 613.4,2380.6 599.5,2394.5 594.9,2412.9 618.0,2422.1 631.8,2412.9M594.9,2399.1 618.0,2394.5 634.1,2399.1 622.6,2408.3M915.0,305.0 913.1,307.1 910.1,305.5 909.5,303.7 910.6,302.1 913.3,303.0ZM918.0,316.8 917.5,316.2 918.3,314.7 918.8,315.0 918.6,316.3ZM911.0,323.4 909.7,322.8 910.3,320.8 911.9,320.1 912.8,321.5 912.4,323.3ZM923.4,316.8 920.5,314.3 918.9,310.2 921.2,309.2 924.3,313.1ZM923.3,309.0 921.6,310.7 918.6,308.8 916.2,306.3 919.1,304.6 923.3,306.5ZM922.9,310.8 921.8,309.3 922.3,306.8 924.7,305.0 925.3,307.9 925.4,311.2ZM911.9,318.6 909.1,318.8 909.0,315.4 909.6,312.8 912.0,312.6 913.3,314.8 913.4,317.1ZM920.7,314.9 918.7,313.4 918.7,308.5 920.6,305.9 921.9,309.2 922.1,312.7ZM916.4,325.9 912.6,325.3 908.2,323.3 910.6,322.0 914.1,323.0ZM910.0,317.9 908.0,316.9 906.1,314.7 905.9,312.6 906.6,311.2 908.8,312.8 910.0,315.7ZM916.9,312.6 915.7,311.5 916.0,309.4 917.5,309.0 917.8,311.3ZM905.4,310.6 905.8,308.9 907.8,308.8 908.2,310.1 906.9,310.8ZM913.5,310.1 913.9,308.3 914.9,307.5 916.7,306.9 916.6,308.8 915.3,309.7ZM924.2,320.8 922.7,320.0 922.3,317.7 923.2,317.4 924.7,319.1ZM925.1,324.7 922.1,325.7 918.9,322.6 919.6,319.9 922.1,320.0 924.9,321.7ZM913.4,324.3 910.2,323.8 909.8,320.6 912.5,319.2 915.7,321.3ZM922.6,325.7 922.4,322.5 923.9,320.3 926.7,321.2 925.4,324.1ZM926.7,312.6 925.1,314.5 922.0,315.3 920.3,312.4 922.1,310.3 924.0,309.6 925.8,310.5ZM922.2,323.0 923.0,321.4 923.7,320.1 924.9,320.8 926.4,321.6 925.7,323.3 924.1,323.1ZM910.6,315.7 907.6,316.1 905.8,311.5 909.0,310.1 912.4,313.3ZM918.2,323.4 917.4,324.5 914.7,323.3 913.6,321.9 912.4,319.9 915.8,320.9 918.5,322.1ZM920.2,318.0 919.3,315.5 919.7,313.6 921.1,313.9 921.4,315.7ZM914.3,328.1 912.5,328.4 909.8,327.4 908.7,325.1 909.4,323.5 912.2,324.1 913.6,326.4ZM908.3,313.0 907.6,312.8 906.5,312.3 905.7,311.0 906.4,310.7 907.5,311.4 908.2,312.3ZM912.1,314.1 907.8,316.7 905.2,313.5 905.6,310.2 909.6,310.1ZM910.6,307.1 910.4,306.2 911.8,304.6 913.1,303.6 913.4,304.3 913.3,305.6 911.7,306.5ZM908.9,326.1 909.1,324.4 910.0,323.4 911.5,322.3 912.4,323.8 912.2,325.5 910.6,325.7ZM927.9,318.0 925.2,319.6 922.8,317.9 921.8,313.7 926.7,314.6ZM923.7,317.9 923.4,316.5 924.6,314.9 926.0,316.4 925.3,318.1ZM910.6,313.8 908.6,314.0 906.2,312.5 906.3,308.9 909.9,309.3 911.5,311.8ZM1351.4,633.3 1357.2,631.0 1360.5,633.0 1364.4,631.6 1368.0,632.2 1371.5,633.1 1375.6,632.7 1378.5,635.4 1381.8,637.2 1385.0,639.2 1389.3,637.6 1392.6,639.3 1396.3,639.3 1399.0,643.2 1402.5,643.6 1406.8,641.7 1409.0,646.8 1412.5,647.9 1416.4,647.7 1419.9,648.7 1424.3,648.1 1428.2,649.7 1430.6,653.8 1435.3,654.2 1437.9,656.6 1442.2,656.9 1446.0,656.0 1452.4,656.5 1455.4,659.8 1456.9,664.3 1460.8,666.8 1463.4,669.3 1466.7,671.0M1354.3,634.3 1357.8,634.9 1361.2,634.9 1364.7,633.3 1368.1,632.9 1371.7,634.0 1374.7,634.8 1377.0,637.4 1380.1,638.1 1383.0,638.9 1386.0,639.8 1388.8,641.2 1392.6,640.6 1395.9,642.4 1399.5,642.5 1402.4,645.6 1406.6,644.0 1408.8,647.2 1412.4,646.0 1414.7,648.7 1417.9,648.7 1420.7,649.9 1423.0,652.0 1427.1,651.6 1429.9,653.4 1431.5,657.3 1435.0,658.0 1437.8,658.5 1441.6,660.9 1445.2,660.5 1448.6,657.7 1452.5,658.5 1455.5,660.8 1457.5,664.0 1459.5,667.2"/>
<path class="b" d="M361.5,322.6 370.2,334.2 368.7,345.7 357.2,354.3 350,368.7"/>
<path class="b" d="M545.9,226.2 532.9,239.1 518.5,256.4 512.7,279.4 507,293.8 498.3,305.4 515.6,302.5 524.3,322.6 532.9,339.9 528.6,360.1 541.5,374.5 558.8,375.9 581.9,375.1 607.8,378.8 619.3,391.8 630.8,407.6 645.2,406.2 670,404.7"/>
<path class="b" d="M316.9,564.6 331.3,576.1 348.6,584.7 363,593.4 368.7,600.6 386,603.5 397.5,602 400.4,597.7 411.9,602 423.5,610.7 435,616.4 446.5,619.3 458,627.9 466.7,642.4 481.1,651 489.7,659.6 495.5,670"/>
<path class="b" d="M423.5,615 432.1,625.1 437.9,642.4 429.2,659.6 423.5,670"/>
<path class="b" d="M670,553.1 619.3,554.5 617.9,573.2 639.5,579 640.9,590.5 613.5,593.4 610.7,600.6"/>
<path class="b" d="M670,404.7 687.3,401.9 697.4,406.2 693,420.6 685.8,432.1 684.4,446.5 688.7,463.8 693,481.1 701.7,498.3 684.4,514.2 693,521.4 704.6,535.8 707.4,550.2 710.3,564.6 716.1,571.8"/>
<path class="b" d="M670,553.1 675.8,551.6 687.3,543 698.8,537.2 706,553.1 716.1,571.8"/>
<path class="b" d="M716.1,571.8 733.4,586.2 747.8,584.7 759.3,579 762.2,589.1 770.8,579 785.2,570.3 799.6,563.1 811.1,557.4 812.6,547.3 831.3,538.7 834.2,531.5 814,530 811.1,515.6 805.4,501.2 806.8,495.5 796.7,481.1 785.2,469.5 802.5,473.9 814,481.1 831.3,479.6 845.7,489.7 854.3,485.4 854.3,478.2 871.6,472.4 888.9,468.1 900.4,462.3 914.8,455.1 926.3,446.5 923.5,439.3"/>
<path class="b" d="M924.9,439.3 914.8,426.3 901.9,413.4 909.1,400.4 909.1,388.9 923.5,383.1 937.9,374.5 924.9,368.7 923.5,357.2 929.2,348.6 943.6,339.9 952.3,334.2"/>
<path class="b" d="M924.9,439.3 940.7,436.4 946.5,443.6 945.1,458 958,465.2 958,475.3 962.3,481.1 958,489.7 955.1,509.9 950.8,532.9 955.1,547.3 963.8,555.9 975.3,566 983.9,568.9 998.3,560.3 1015.6,554.5 1030,547.3 1044.4,544.4 1058.8,545.9"/>
<path class="b" d="M1043,411.9 1041.5,429.2 1037.2,439.3 1024.3,446.5 1017.1,452.3 1015.6,466.7 1011.3,473.9 1018.5,486.8 1027.1,498.3 1038.7,501.2 1041.5,515.6 1050.2,532.9 1058.8,545.9"/>
<path class="b" d="M1058.8,545.9 1073.2,547.3 1083.3,550.2 1084.7,538.7 1076.1,535.8 1081.9,528.6 1102,530 1116.4,525.7 1120.7,534.3 1135.1,535.8 1153.9,537.2 1170,534.3"/>
<path class="b" d="M1148.1,422 1133.7,443.6 1130.8,458 1136.6,475.3 1146.7,489.7 1145.2,507 1139.5,527.1 1135.1,535.8"/>
<path class="b" d="M1170,534.2 1183,538.5 1195.9,525.5 1204.6,505.4 1219,485.2 1227.6,467.9"/>
<path class="b" d="M610.3,600 610.3,620.2 624.7,628.8 631.9,651.8 627.6,680.6 621.8,715.2 616.1,744 613.2,757"/>
<path class="b" d="M765.9,937 770.2,960 767.3,977.3 771.6,1003.2 783.1,1014.7 797.5,1026.3 809.1,1030.6 823.5,1029.1 837.9,1037.8 852.3,1046.4 869.5,1052.2 883.9,1063.7 898.3,1063.7 915.6,1065.1 924.3,1068"/>
<path class="b" d="M627.6,978.7 653.5,984.5 670.8,977.3 679.4,968.7 693.8,962.9 719.8,939.9"/>
<path class="b" d="M267.9,724.7 270.8,742 262.2,749.2 263.6,760.7 273.7,756.4 288.1,762.2 296.7,770.8 301,778 311.1,779.4 316.9,767.9 324.1,762.2 328.4,744.9 335.6,727.6 348.6,713.2 371.6,704.6 391.8,697.4 409.1,684.4 423.5,670"/>
<path class="b" d="M495.5,670 504.1,675.8 508.4,688.7 524.3,693 541.5,690.2 553.1,684.4 567.5,691.6 581.9,688.7 599.1,695.9 610.7,701.7 602,719 590.5,739.1 602,742 610.7,756.4 613.5,756.4"/>
<path class="b" d="M613.5,756.4 602,750.6 587.6,752.1 573.2,757.8 555.9,762.2 538.7,769.4 524.3,778 515.6,788.1 512.7,802.5 504.1,814 505.5,827 495.5,837.1 486.8,845.7 486.8,852.9 479.6,858.7 481.1,868.7 489.7,877.4 492.6,888.9 501.2,900.4 507,911.9 514.2,917.7 505.5,926.3 527.1,929.2 538.7,935 540.1,946.5 570.3,946.5 581.9,937.9 594.8,927.8 591.9,940.7 591.9,981.1 607.8,979.6 627.9,978.2"/>
<path class="b" d="M627.9,979.6 642.4,1004.1 656.8,1030 648.1,1041.5 645.2,1058.8 649.6,1084.7 642.4,1096.3 635.1,1110.7 636.6,1122.2 630.8,1136.6 636.6,1153.9 645.2,1165.4"/>
<path class="b" d="M645.2,1165.4 648.8,1162 635,1178 625.8,1187.6 628,1199 618.9,1203.7 616.6,1219.8 602.8,1224.4"/>
<path class="b" d="M920.6,1070 932.1,1075.8 933.5,1087.3 937.9,1101.7 937.9,1116.1 927.8,1117.5 939.3,1130.5 940.7,1156.4 1002.7,1157 1001.2,1167.9 998.3,1179.4 1004.1,1191 1015.6,1198.2 1022.8,1202.5 1025.7,1211.1 1030,1221.2 1022.8,1245.7 1015.6,1260.1 1008.4,1275.9"/>
<path class="b" d="M857.2,1355.1 870.2,1300.4 887.5,1268.7 926.3,1263 946.5,1258.7 978.2,1258.7 1008.4,1275.9 1019.1,1281.7 1009.9,1286 1009.9,1288.9 1015.6,1306.2 1018.5,1320.6 1015.6,1335 1014.2,1350.8 1030,1355.1 1055.9,1356.6 1066,1350.8 1073.2,1358 1087.6,1358 1093.4,1372.4 1096.3,1392.6 1100.6,1414.2 1116.4,1414.2 1127.9,1411.3 1138,1417.1 1136.6,1432.9 1130.8,1453.1 1127.9,1473.2 1122.2,1496.3 1110.7,1510.7 1096.3,1519.3 1087.6,1526.5 1064.6,1529.4 1041.5,1532.3 1015.6,1526.5 994,1523.6 1001.2,1513.5 1007,1502 1012.7,1484.7 1024.3,1473.2 1015.6,1453.1 998.3,1444.4 981.1,1438.7 963.8,1428.6 946.5,1418.5 929.2,1417.1 911.9,1409.9 897.5,1396.9 883.1,1385.4 871.6,1369.5 857.2,1355.1"/>
<path class="b" d="M707.4,1379.6 710.3,1369.5 720.4,1358 736.2,1353.7 741.4,1344.2 753.5,1354.6 785.2,1355.1 793.8,1358 801.9,1378.8 815.4,1348.5 852.9,1348.5 857.2,1355.1"/>
<path class="b" d="M1127.9,1470.3 1142.4,1466.9 1151,1471.8 1156.8,1487.6 1159.6,1493.4 1156.8,1510.7 1159.6,1519.3"/>
<path class="b" d="M1025.3,1623.8 1018.1,1633.9 1016.6,1646.9 1015.2,1661.3 1010.9,1672.8 1008,1681.5 1009.4,1701.6 1010.9,1716 1000.8,1721.8 996.5,1736.2 1000.8,1750.6 1009.4,1760.7"/>
<path class="b" d="M1025.3,1623.8 1035.4,1625.3 1046.9,1619.5 1055.5,1622.4 1067.1,1633.9 1078.6,1642.6 1081.5,1652.6 1091.5,1645.4 1101.6,1652.6 1110.3,1658.4 1124.7,1664.2 1133.3,1672.8 1144.8,1681.5 1156.3,1685.8 1163.5,1698.7 1176.5,1705.9 1183.7,1701.6 1188,1691.5 1193.8,1688.7"/>
<path class="b" d="M1025.3,1623.8 1036.8,1612.3 1046.9,1603.7 1058.4,1589.3 1067.1,1580.6 1078.6,1567.7 1087.2,1560.5 1101.6,1549 1113.1,1541.8 1130.4,1531.7 1144.8,1524.5 1156.3,1520.2"/>
<path class="b" d="M1193.8,1688.7 1190.9,1701.6 1188,1713.1 1180.8,1711.7 1176.5,1721.8 1166.4,1727.5 1163.5,1739.1 1167.9,1733.3 1176.5,1727.5 1185.1,1716 1192.3,1707.4 1194.4,1695.9 1193.8,1688.7"/>
<path class="b" d="M628.8,1200 634.6,1210.5 642.7,1216.3 646.2,1241.8 650.9,1249.9 662.5,1259.9 656.7,1269.7 661.3,1279 653.2,1284.8 655.5,1292.9 662.5,1302.2 660.2,1310.3 666,1313.8 670.6,1327.8 674.1,1344 678.7,1358 682.2,1374.2 688,1380 704.3,1378.9 710.1,1383.5 702,1416 674.1,1426.5 662.5,1434.6 659,1443.9 664.8,1453.2 659.7,1457.8 659,1469.5 664.8,1488 659,1497.3 662.5,1506.6 669,1514.8 662.5,1520.6 650.9,1521.7 646.2,1532.2 639.3,1548.4 628.8,1557.7 620.7,1569.3 617.2,1585.6 610.2,1594.9 613.7,1608.8 616,1622.8 612.5,1629.7 605.6,1630.9 602.1,1641.3 599.8,1651.8 594,1656.4 592.8,1666.9 596.3,1680.8 600.9,1687.8 602.1,1699.9 606.5,1699.9"/>
<path class="b" d="M606.5,1700 610,1711.6 612.3,1723.2 619.3,1727.9 616.9,1741.8 618.1,1758.1 610,1762.7 603,1774.3 599.5,1790.6 594.9,1792.9 598.4,1804.5 599.5,1816.1 594.9,1825.4 584.4,1832.4 577.4,1834.7 573.3,1844 572.8,1858 575.1,1874.2 579.8,1890.5 583.9,1904.4 579.8,1910.2 567,1913.7 564.7,1923 563.5,1932.3 555.4,1938.1 556.5,1946.2 551.9,1955.5 555.4,1964.8 548.4,1974.1 547.2,1981.1 550.7,1992.7 549.6,2006.6 554.2,2018.2 553.1,2022.9 543.8,2024 541.4,2034.5 542.6,2048.4 543.8,2057.7 551.9,2058.9 556.5,2071.7 551.9,2085.6 553.1,2094.9 550.7,2099.5 572.8,2100 576.3,2104.2 570.5,2115.8 544.9,2113.5 543.8,2118.1 558.9,2120.4 565.8,2127.4 568.2,2134.4 558.9,2141.3 553.1,2150.6 558.9,2157.6 551.9,2164.6 554.2,2176.2"/>
<path class="b" d="M555.7,2174.9 547.1,2186.4 549.9,2192.2 535.5,2200.8 529.8,2218.1 535.5,2226.7 526.9,2235.4 524,2246.9 509.6,2255.5 495.2,2265.6 493.8,2278.6 498.1,2290.1 503.8,2301.6 506.7,2310.3 526.9,2305.9 537,2313.1 535.5,2330.4 532.6,2339.1 547.1,2352 581.6,2352.9 616.2,2353.5 639.2,2359.2 665.1,2365"/>
<path class="b" d="M658.8,2376.5 658.8,2448.5"/>
<path class="s" d="M1120.7,532.9 1122.2,550.2 1142.4,555.9 1159.6,567.5 1170,581.9"/>
<path class="s" d="M834.2,534.3 851.5,544.4 857.2,561.7 863,576.1 864.4,593.4 868.7,613.5 873.1,625.1 863,635.1 874.5,645.2 886,659.6 897.5,664 894.7,648.1 897.5,636.6 909.1,629.4 920.6,633.7 923.5,640.9 935,633.7 939.3,619.3 946.5,603.5 983.9,602.9 983.9,568.9"/>
<path class="s" d="M1170,583.1 1177.2,591.8 1181.5,609.1 1193,626.3 1198.8,640.7 1213.2,653.7 1224.7,647.9 1227.6,635 1239.1,623.5 1244.9,614.8"/>
<path class="s" d="M570,877.9 598.8,885.1 627.6,899.5 653.5,912.5 670.8,919.7 719.8,939.9 731.3,928.3 742.8,926.9 754.3,931.2 765.9,924 777.4,925.5 783.1,915.4 797.5,912.5 826.3,879.4 850.8,878.8 858,885.1 863.8,893.8 872.4,899.5 881.1,908.2 889.7,903.9 895.5,906.7 1000.6,906.7 1000.6,888 1004.9,870.7 1007.8,856.3 999.1,841.9 999.1,833.3 1004.9,829 1070,686.4"/>
<path class="s" d="M1007.8,856.3 1016.4,870.7 1025.1,888 1027.9,902.4 1042.4,916.8 1056.8,926.9 1070,926.9"/>
<path class="s" d="M895.5,906.7 892.6,922.6 895.5,939.9 894,957.1 896.9,968.7 895.5,980.2 947.3,983.1 950.2,991.7 944.4,1003.2 947.3,1014.7 953.1,1024.8 944.4,1040.7 938.7,1055.1 924.3,1066.6"/>
<path class="s" d="M719.8,939.9 731.3,942.7 754.3,939.9 765.9,937"/>
<path class="s" d="M984.7,602.9 984.7,620.2 990.5,631.7 1002,646.1 1013.5,651.8 1025.1,663.4 1039.5,672 1056.8,683.5 1070,683.5"/>
<path class="s" d="M1323.5,791.5 1329.2,785.8 1343.6,775.7 1358,765.6 1372.4,746.9 1383.9,729.6 1392.6,709.4 1398.3,692.2 1407,672 1411.3,653.3"/>
<path class="s" d="M1323.5,791.5 1337.9,795.9 1342.2,804.5 1337.9,818.9 1329.2,830.4 1314.8,839.1 1307.6,847.7 1303.3,865 1309.1,876.5 1306.2,890.9 1294.7,908.2 1283.1,919.7 1274.5,941.3"/>
<path class="s" d="M1070,926.9 1274.5,941.3 1265.9,960 1260.1,977.3 1257.2,1003.2 1258.7,1023.4 1260.1,1040.7 1254.3,1066.6 1248.6,1100"/>
<path class="s" d="M1329.2,787.2 1346.5,788.7 1360.9,793 1366.7,807.4 1368.1,824.7 1363.8,839.1 1358,853.5 1366.7,862.1 1375.3,873.6 1382.5,880.8 1392.6,876.5 1399.8,883.7 1395.5,890.9 1386.8,899.5 1381.1,913.9 1389.7,925.5 1398.3,939.9 1404.1,951.4 1419.9,954.3"/>
<path class="s" d="M1555.3,706.6 1548.1,721 1530.8,729.6 1522.2,744 1516.4,755.5 1513.5,778.6 1513.5,807.4 1520.7,824.7 1516.4,836.2 1502,839.1 1487.6,837.6 1473.2,847.7 1455.9,859.2 1438.7,867.9 1430,879.4 1424.3,896.7 1417.1,911.1 1419.9,928.3 1421.4,945.6 1419.9,954.3"/>
<path class="s" d="M1419.9,954.3 1407,968.7 1398.3,983.1 1395.5,990.3 1404.1,1000.3 1412.7,1001.8 1405.5,1009 1404.1,1026.3 1408.4,1032 1404.1,1045"/>
<path class="s" d="M1260.1,1040.7 1268.7,1032 1275.9,1027.7 1271.6,1040.7 1286,1047.9 1303.3,1055.1 1306.2,1043.5 1314.8,1040.7 1329.2,1052.2 1346.5,1055.1 1359.5,1060.8 1360.9,1050.7 1375.3,1055.1 1392.6,1046.4 1404.1,1045.9 1405.5,1060.8 1407,1083.9 1415.6,1092.5 1418.5,1100"/>
<path class="s" d="M486.8,852.9 544.4,868.7 573.2,876.8"/>
<path class="s" d="M1025.7,1211.1 1041.5,1208.2 1053.1,1193.8 1076.1,1187.5 1090.5,1193.8 1107.8,1202.5 1125.1,1198.2 1136.6,1202.5 1148.1,1196.7 1158.2,1188.7 1158.2,1205.4 1149.6,1211.1 1159.6,1215.4 1170,1215.4"/>
<path class="s" d="M1138,1417.1 1145.2,1398.3 1156.8,1383.9 1170,1372.4"/>
<path class="s" d="M1156.8,1487.6 1170,1493.4"/>
<path class="s" d="M1255,1070 1253.5,1084.4 1247.8,1101.7 1242,1113.2 1230.5,1117.5 1224.7,1130.5 1216.1,1142 1198.8,1150.6 1191.6,1162.2 1181.5,1176.6 1172.9,1191 1172.9,1205.4 1177.2,1216.9 1184.4,1234.2 1198.8,1242.8 1216.1,1250 1233.4,1257.2 1249.2,1264.4"/>
<path class="s" d="M1170,1214 1177.2,1216.9"/>
<path class="s" d="M1249.2,1264.4 1256.4,1254.3 1265,1242.8 1279.4,1237.1 1299.6,1232.7 1314,1227 1331.3,1227 1348.6,1229.9 1363,1225.5 1373.1,1216.9 1368.7,1205.4 1365.9,1193.8 1377.4,1180.9 1371.6,1167.9 1367.3,1159.3 1377.4,1150.6 1383.1,1127.6 1386,1116.1 1397.5,1113.2 1400.4,1106 1409.1,1110.3 1416.3,1101.7 1414.8,1090.2 1407.6,1081.5 1406.2,1070"/>
<path class="s" d="M1414.8,1119 1429.2,1113.2 1443.6,1104.6 1458,1095.9 1472.4,1088.7 1486.8,1091.6 1489.7,1101.7 1498.3,1106 1509.9,1103.1 1524.3,1107.4 1538.7,1116.1 1553.1,1119 1564.6,1127.6 1571.8,1139.1 1584.7,1137.7 1596.3,1139.1 1607.8,1142 1620.7,1150.6 1616.4,1165 1607.8,1176.6 1599.1,1182.3 1596.3,1193.8 1602,1202.5 1610.7,1211.1 1627.9,1225.5"/>
<path class="s" d="M1610.7,1211.1 1599.1,1212.6 1587.6,1216.9 1579,1225.5 1580.4,1242.8 1584.7,1257.2 1579,1271.6 1573.2,1286 1555.9,1291.8 1554.5,1309.1 1558.8,1317.7 1570.3,1322 1584.7,1323.5"/>
<path class="s" d="M1554.5,1309.1 1544.4,1317.7 1541.5,1337.9 1527.1,1343.6 1512.7,1349.4 1495.5,1352.3 1478.2,1358 1458,1363.8 1437.9,1368.1 1423.5,1371"/>
<path class="s" d="M1458,1363.8 1466.7,1369.5 1475.3,1372.4 1466.7,1378.2 1458,1382.5"/>
<path class="s" d="M1249.2,1264.4 1247.8,1283.1 1265,1274.5 1285.2,1277.4 1305.4,1281.7 1308.2,1290.3 1318.3,1294.7 1319.8,1286 1342.8,1284.6 1365.9,1280.3 1373.1,1288.9 1375.9,1309.1 1383.1,1326.3 1397.5,1330.7 1394.7,1349.4 1393.2,1358 1400.4,1366.7 1404.7,1375.3 1423.5,1371"/>
<path class="s" d="M1247.8,1283.1 1236.2,1297.5 1227.6,1309.1 1219,1329.2 1210.3,1346.5 1198.8,1358 1178.6,1368.1 1170,1373.9"/>
<path class="s" d="M1178.6,1368.1 1193,1366.7 1210.3,1366.7 1227.6,1371 1250.6,1378.2 1265,1379.6 1282.3,1379.6 1292.4,1386.8 1296.7,1409.9 1302.5,1421.4 1308.2,1430 1305.4,1438.7"/>
<path class="s" d="M1170,1491.9 1187.3,1494.8 1207.4,1499.1 1227.6,1502 1239.1,1504.9 1240.6,1493.4 1256.4,1486.2 1273.7,1483.3 1296.7,1486.2 1314,1481.9 1329.9,1481.9"/>
<path class="s" d="M1572.8,710.5 1569.9,724.9 1575.7,736.4 1578.6,747.9 1574.3,759.4 1575.7,773.8 1584.3,785.4 1587.2,805.5 1590.1,822.8 1595.9,834.3 1603.1,840.1 1601.6,851.6 1598.7,858.8"/>
<path class="s" d="M1709.6,775.3 1693.8,779.6 1688,794 1682.3,805.5 1676.5,814.2 1667.9,819.9 1663.5,825.7 1662.1,837.2 1659.2,848.7 1665,857.4 1660.7,868.9"/>
<path class="s" d="M1598.7,858.8 1613.1,857.4 1627.5,855.9 1639.1,866 1647.7,874.7 1660.7,868.9 1673.6,873.2 1688,868.9 1699.5,861.7 1711.1,855.9 1716.8,863.1 1711.1,871.8 1706.7,877.5 1713.9,886.2 1719.7,889.1 1731.2,880.4 1745.6,874.7 1760,871.8 1771.5,866"/>
<path class="s" d="M1663.5,825.7 1676.5,830 1688,824.3 1699.5,818.5 1711.1,814.2 1709.6,822.8 1702.4,828.6 1703.9,837.2 1713.9,840.1 1725.5,845.9 1731.2,840.1 1734.1,825.7 1739.9,822.8 1745.6,827.1 1762.9,828.6 1774.4,830"/>
<path class="s" d="M1598.7,858.8 1595.9,868.9 1598.7,880.4 1590.1,889.1 1578.6,900.6 1572.8,903.5 1561.3,909.2 1549.8,917.9 1535.4,923.6 1523.8,933.7 1515.2,926.5 1500.8,922.2 1489.3,930.8 1487.8,940.9 1493.6,946.7 1492.2,958.2 1483.5,966.8 1472,969.7 1451.8,978.3 1437.4,969.7 1431.7,958.2 1427.4,952.4 1420.2,955.3"/>
<path class="s" d="M1572.8,903.5 1584.3,909.2 1591.5,917.9 1593,927.9 1604.5,926.5 1607.4,917.9 1618.9,910.7 1627.5,903.5 1637.6,897.7 1644.8,903.5 1659.2,907.8 1665,912.1 1673.6,922.2 1680.8,917.9 1690.9,909.2 1702.4,917.9 1716.8,925.1 1728.3,922.2 1739.9,915 1751.4,909.2 1762.9,907.8 1774.4,909.2"/>
<path class="s" d="M1673.6,922.2 1677.9,929.4 1690.9,935.1 1705.3,940.9 1719.7,949.5 1731.2,953.9 1742.7,952.4"/>
<path class="s" d="M1682.3,930.8 1685.1,940.9 1689.5,952.4 1688,969.7 1676.5,972.6 1679.4,984.1 1685.1,994.2 1693.8,999.9 1702.4,995.6"/>
<path class="s" d="M1156.3,1520.2 1167.9,1520.2 1182.3,1521.6 1199.5,1525.9 1213.9,1528.8 1225.5,1534.6 1239.9,1543.2 1251.4,1554.7 1260,1563.4 1274.4,1564.8 1287.4,1566.2 1291.7,1570.6 1284.5,1574.9 1284.5,1586.4 1277.3,1592.2 1288.8,1593.6"/>
<text class="l" x="724" y="270.2">22</text>
<text class="l" x="483" y="469.2">11</text>
<text class="l" x="1020" y="396.2">24</text>
<text class="l" x="1121" y="426.2">24</text>
<text class="l" x="1210" y="457.2">23</text>
<text class="l" x="933" y="528.2">27</text>
<text class="l" x="325.5" y="631">9</text>
<text class="l" x="1255" y="622.2">25</text>
<text class="l" x="1341" y="671.2">25</text>
<text class="l" x="1483" y="707.2">26</text>
<text class="l" x="955.6" y="726.1">27</text>
<text class="l" x="1675" y="750.2">22</text>
<text class="l" x="1532" y="793">27</text>
<text class="l" x="1787" y="816.2">26</text>
<text class="l" x="1799" y="860.2">25</text>
<text class="l" x="1799" y="892.2">24</text>
<text class="l" x="1769" y="945.2">21</text>
<text class="l" x="1725" y="988.2">20</text>
<text class="l" x="826" y="915.2">24</text>
<text class="l" x="695" y="956.2">22</text>
<text class="l" x="1346" y="964.2">25</text>
<text class="l" x="387" y="1023.2">17</text>
<text class="l" x="1676" y="1057.2">22</text>
<text class="l" x="1087" y="1145.2">25</text>
<text class="l" x="1362" y="1149.2">18</text>
<text class="l" x="1317" y="1181.2">22</text>
<text class="l" x="668.2" y="1173.8">5</text>
<text class="l" x="1495" y="1289.2">22</text>
<text class="l" x="1615" y="1302.2">24</text>
<text class="l" x="1134.3" y="1306.7">23</text>
<text class="l" x="1518.7" y="1389.2">25</text>
<text class="l" x="1403" y="1410.2">21</text>
<text class="l" x="1038" y="1469.2">24</text>
<text class="l" x="1317" y="1473.2">19</text>
<text class="l" x="1341" y="1546.2">22</text>
<text class="l" x="1250" y="1628.2">21</text>
<text class="l" x="588.2" y="1739.6">5</text>
<text class="l" x="1009" y="1785.2">21</text>
<text class="l" x="1084" y="1787.2">19</text>
</g>
<g transform="translate(1620,2270) scale(0.12097)"><path d="M1470,500 C1455,800 1300,1150 900,1262 C600,1335 290,1200 195,880 C172,790 165,710 168,640 C200,900 400,1105 650,1105 C900,1105 1150,900 1190,500 Z" fill="#0072bc"/><path d="M1120,506 L1335,298 L1537,506 Z" fill="#0072bc"/><path d="M172,660 C155,400 350,190 620,190 C850,190 962,350 962,580 L1030,580 L820,772 L640,580 L712,580 C720,470 620,402 520,402 C350,402 215,560 196,740" fill="none" stroke="#0072bc" stroke-width="11" stroke-linejoin="miter"/><circle cx="818" cy="931" r="141" fill="#f39200"/><text x="258" y="830" font-size="200" font-weight="bold" font-style="italic" textLength="420" lengthAdjust="spacingAndGlyphs" style="font-family:'DejaVu Sans','Liberation Sans',sans-serif" fill="#111">INPE</text></g>
<rect x="177.3" y="177.3" width="1674" height="2309.7" fill="none" stroke="#000" stroke-width="3.33"/>
<text class="t" x="1004.8" y="80.4">SAMeT - Temperatura Mínima</text>
<text class="t" x="1024.7" y="153.3">Válida para 13/11/2009</text>
<text class="k" text-anchor="end" x="156" y="293.94">10°N</text>
<text class="k" text-anchor="end" x="156" y="628.74">0°</text>
<text class="k" text-anchor="end" x="157.8" y="963.54">10°S</text>
<text class="k" text-anchor="end" x="157.8" y="1298.34">20°S</text>
<text class="k" text-anchor="end" x="157.8" y="1633.14">30°S</text>
<text class="k" text-anchor="end" x="157.8" y="1967.94">40°S</text>
<text class="k" text-anchor="end" x="157.8" y="2302.74">50°S</text>
<text class="k" text-anchor="middle" x="277.74" y="2546.5">80°W</text>
<text class="k" text-anchor="middle" x="612.54" y="2546.5">70°W</text>
<text class="k" text-anchor="middle" x="947.34" y="2546.5">60°W</text>
<text class="k" text-anchor="middle" x="1282.14" y="2546.5">50°W</text>
<text class="k" text-anchor="middle" x="1616.94" y="2546.5">40°W</text>
<g>
<path d="M1893.7,283.3 L1919.35,177.3 L1945,283.3 Z" fill="#67001f"/>
<path d="M1893.7,2381.2 L1919.35,2487 L1945,2381.2 Z" fill="#053061"/>
<rect x="1893.7" y="2360.99" width="51.3" height="21.81" fill="#063264"/>
<rect x="1893.7" y="2339.78" width="51.3" height="21.81" fill="#08366a"/>
<rect x="1893.7" y="2318.57" width="51.3" height="21.81" fill="#0c3d73"/>
<rect x="1893.7" y="2297.36" width="51.3" height="21.81" fill="#0e4179"/>
<rect x="1893.7" y="2276.14" width="51.3" height="21.81" fill="#114781"/>
<rect x="1893.7" y="2254.93" width="51.3" height="21.81" fill="#144e8a"/>
<rect x="1893.7" y="2233.72" width="51.3" height="21.81" fill="#175290"/>
<rect x="1893.7" y="2212.51" width="51.3" height="21.81" fill="#1a5899"/>
<rect x="1893.7" y="2191.3" width="51.3" height="21.81" fill="#1c5c9f"/>
<rect x="1893.7" y="2170.09" width="51.3" height="21.81" fill="#1f63a8"/>
<rect x="1893.7" y="2148.88" width="51.3" height="21.81" fill="#2267ac"/>
<rect x="1893.7" y="2127.67" width="51.3" height="21.81" fill="#266caf"/>
<rect x="1893.7" y="2106.46" width="51.3" height="21.81" fill="#2a71b2"/>
<rect x="1893.7" y="2085.24" width="51.3" height="21.81" fill="#2c75b4"/>
<rect x="1893.7" y="2064.03" width="51.3" height="21.81" fill="#307ab6"/>
<rect x="1893.7" y="2042.82" width="51.3" height="21.81" fill="#337eb8"/>
<rect x="1893.7" y="2021.61" width="51.3" height="21.81" fill="#3783bb"/>
<rect x="1893.7" y="2000.4" width="51.3" height="21.81" fill="#3a87bd"/>
<rect x="1893.7" y="1979.19" width="51.3" height="21.81" fill="#3e8cbf"/>
<rect x="1893.7" y="1957.98" width="51.3" height="21.81" fill="#408fc1"/>
<rect x="1893.7" y="1936.77" width="51.3" height="21.81" fill="#4695c4"/>
<rect x="1893.7" y="1915.56" width="51.3" height="21.81" fill="#4f9bc7"/>
<rect x="1893.7" y="1894.34" width="51.3" height="21.81" fill="#569fc9"/>
<rect x="1893.7" y="1873.13" width="51.3" height="21.81" fill="#5fa5cd"/>
<rect x="1893.7" y="1851.92" width="51.3" height="21.81" fill="#65a9cf"/>
<rect x="1893.7" y="1830.71" width="51.3" height="21.81" fill="#6eaed2"/>
<rect x="1893.7" y="1809.5" width="51.3" height="21.81" fill="#75b2d4"/>
<rect x="1893.7" y="1788.29" width="51.3" height="21.81" fill="#7eb8d7"/>
<rect x="1893.7" y="1767.08" width="51.3" height="21.81" fill="#84bcd9"/>
<rect x="1893.7" y="1745.87" width="51.3" height="21.81" fill="#8dc2dc"/>
<rect x="1893.7" y="1724.66" width="51.3" height="21.81" fill="#96c7df"/>
<rect x="1893.7" y="1703.44" width="51.3" height="21.81" fill="#9bc9e0"/>
<rect x="1893.7" y="1682.23" width="51.3" height="21.81" fill="#a2cde3"/>
<rect x="1893.7" y="1661.02" width="51.3" height="21.81" fill="#a7d0e4"/>
<rect x="1893.7" y="1639.81" width="51.3" height="21.81" fill="#aed3e6"/>
<rect x="1893.7" y="1618.6" width="51.3" height="21.81" fill="#b3d6e8"/>
<rect x="1893.7" y="1597.39" width="51.3" height="21.81" fill="#bbdaea"/>
<rect x="1893.7" y="1576.18" width="51.3" height="21.81" fill="#c2ddec"/>
<rect x="1893.7" y="1554.97" width="51.3" height="21.81" fill="#c7e0ed"/>
<rect x="1893.7" y="1533.76" width="51.3" height="21.81" fill="#cfe4ef"/>
<rect x="1893.7" y="1512.54" width="51.3" height="21.81" fill="#d2e6f0"/>
<rect x="1893.7" y="1491.33" width="51.3" height="21.81" fill="#d7e8f1"/>
<rect x="1893.7" y="1470.12" width="51.3" height="21.81" fill="#dae9f2"/>
<rect x="1893.7" y="1448.91" width="51.3" height="21.81" fill="#deebf2"/>
<rect x="1893.7" y="1427.7" width="51.3" height="21.81" fill="#e1edf3"/>
<rect x="1893.7" y="1406.49" width="51.3" height="21.81" fill="#e6eff4"/>
<rect x="1893.7" y="1385.28" width="51.3" height="21.81" fill="#eaf1f5"/>
<rect x="1893.7" y="1364.07" width="51.3" height="21.81" fill="#edf2f5"/>
<rect x="1893.7" y="1342.86" width="51.3" height="21.81" fill="#f2f5f6"/>
<rect x="1893.7" y="1321.64" width="51.3" height="21.81" fill="#f5f6f7"/>
<rect x="1893.7" y="1300.43" width="51.3" height="21.81" fill="#f7f5f4"/>
<rect x="1893.7" y="1279.22" width="51.3" height="21.81" fill="#f8f3f0"/>
<rect x="1893.7" y="1258.01" width="51.3" height="21.81" fill="#f9f0eb"/>
<rect x="1893.7" y="1236.8" width="51.3" height="21.81" fill="#f9eee7"/>
<rect x="1893.7" y="1215.59" width="51.3" height="21.81" fill="#faeae1"/>
<rect x="1893.7" y="1194.38" width="51.3" height="21.81" fill="#fae7dc"/>
<rect x="1893.7" y="1173.17" width="51.3" height="21.81" fill="#fbe5d8"/>
<rect x="1893.7" y="1151.96" width="51.3" height="21.81" fill="#fce2d2"/>
<rect x="1893.7" y="1130.74" width="51.3" height="21.81" fill="#fcdfcf"/>
<rect x="1893.7" y="1109.53" width="51.3" height="21.81" fill="#fddcc9"/>
<rect x="1893.7" y="1088.32" width="51.3" height="21.81" fill="#fdd9c4"/>
<rect x="1893.7" y="1067.11" width="51.3" height="21.81" fill="#fcd3bc"/>
<rect x="1893.7" y="1045.9" width="51.3" height="21.81" fill="#fbccb4"/>
<rect x="1893.7" y="1024.69" width="51.3" height="21.81" fill="#fac8af"/>
<rect x="1893.7" y="1003.48" width="51.3" height="21.81" fill="#f9c2a7"/>
<rect x="1893.7" y="982.27" width="51.3" height="21.81" fill="#f8bda1"/>
<rect x="1893.7" y="961.06" width="51.3" height="21.81" fill="#f7b799"/>
<rect x="1893.7" y="939.84" width="51.3" height="21.81" fill="#f6b394"/>
<rect x="1893.7" y="918.63" width="51.3" height="21.81" fill="#f5ac8b"/>
<rect x="1893.7" y="897.42" width="51.3" height="21.81" fill="#f5a886"/>
<rect x="1893.7" y="876.21" width="51.3" height="21.81" fill="#f2a17f"/>
<rect x="1893.7" y="855" width="51.3" height="21.81" fill="#ef9979"/>
<rect x="1893.7" y="833.79" width="51.3" height="21.81" fill="#ec9374"/>
<rect x="1893.7" y="812.58" width="51.3" height="21.81" fill="#e98b6e"/>
<rect x="1893.7" y="791.37" width="51.3" height="21.81" fill="#e6866a"/>
<rect x="1893.7" y="770.16" width="51.3" height="21.81" fill="#e37e64"/>
<rect x="1893.7" y="748.94" width="51.3" height="21.81" fill="#e17860"/>
<rect x="1893.7" y="727.73" width="51.3" height="21.81" fill="#dd7059"/>
<rect x="1893.7" y="706.52" width="51.3" height="21.81" fill="#db6b55"/>
<rect x="1893.7" y="685.31" width="51.3" height="21.81" fill="#d7634f"/>
<rect x="1893.7" y="664.1" width="51.3" height="21.81" fill="#d35a4a"/>
<rect x="1893.7" y="642.89" width="51.3" height="21.81" fill="#d05548"/>
<rect x="1893.7" y="621.68" width="51.3" height="21.81" fill="#cc4c44"/>
<rect x="1893.7" y="600.47" width="51.3" height="21.81" fill="#c94741"/>
<rect x="1893.7" y="579.26" width="51.3" height="21.81" fill="#c53e3d"/>
<rect x="1893.7" y="558.04" width="51.3" height="21.81" fill="#c2383a"/>
<rect x="1893.7" y="536.83" width="51.3" height="21.81" fill="#be3036"/>
<rect x="1893.7" y="515.62" width="51.3" height="21.81" fill="#ba2832"/>
<rect x="1893.7" y="494.41" width="51.3" height="21.81" fill="#b72230"/>
<rect x="1893.7" y="473.2" width="51.3" height="21.81" fill="#b3192c"/>
<rect x="1893.7" y="451.99" width="51.3" height="21.81" fill="#ae172a"/>
<rect x="1893.7" y="430.78" width="51.3" height="21.81" fill="#a51429"/>
<rect x="1893.7" y="409.57" width="51.3" height="21.81" fill="#9f1228"/>
<rect x="1893.7" y="388.36" width="51.3" height="21.81" fill="#960f27"/>
<rect x="1893.7" y="367.14" width="51.3" height="21.81" fill="#900d26"/>
<rect x="1893.7" y="345.93" width="51.3" height="21.81" fill="#870a24"/>
<rect x="1893.7" y="324.72" width="51.3" height="21.81" fill="#7f0823"/>
<rect x="1893.7" y="303.51" width="51.3" height="21.81" fill="#790622"/>
<rect x="1893.7" y="282.3" width="51.3" height="21.81" fill="#6d0220"/>
<path d="M1893.7,282.3 L1919.35,177.3 L1945,282.3 L1945,2382.2 L1919.35,2487 L1893.7,2382.2 Z" fill="none" stroke="#000" stroke-width="3.33" stroke-linejoin="miter"/>
<path d="M1945,282.3h15.4" stroke="#000" stroke-width="3.33"/>
<text class="k" x="1974.5" y="302">35</text>
<path d="M1945,473.2h15.4" stroke="#000" stroke-width="3.33"/>
<text class="k" x="1974.5" y="492.9">30</text>
<path d="M1945,685.311h15.4" stroke="#000" stroke-width="3.33"/>
<text class="k" x="1974.5" y="705.011">25</text>
<path d="M1945,897.422h15.4" stroke="#000" stroke-width="3.33"/>
<text class="k" x="1974.5" y="917.122">20</text>
<path d="M1945,1109.53h15.4" stroke="#000" stroke-width="3.33"/>
<text class="k" x="1974.5" y="1129.23">15</text>
<path d="M1945,1321.64h15.4" stroke="#000" stroke-width="3.33"/>
<text class="k" x="1974.5" y="1341.34">10</text>
<path d="M1945,1533.76h15.4" stroke="#000" stroke-width="3.33"/>
<text class="k" x="1974.5" y="1553.46">5</text>
<path d="M1945,1745.87h15.4" stroke="#000" stroke-width="3.33"/>
<text class="k" x="1974.5" y="1765.57">0</text>
<path d="M1945,1957.98h15.4" stroke="#000" stroke-width="3.33"/>
<text class="k" x="1974.5" y="1977.68">-5</text>
<path d="M1945,2170.09h15.4" stroke="#000" stroke-width="3.33"/>
<text class="k" x="1974.5" y="2189.79">-10</text>
<path d="M1945,2382.2h15.4" stroke="#000" stroke-width="3.33"/>
<text class="k" x="1974.5" y="2401.9">-15</text>
<text class="k" text-anchor="middle" x="1909.6" y="175.3">(°C)</text>
</g>
</svg></body></html>
